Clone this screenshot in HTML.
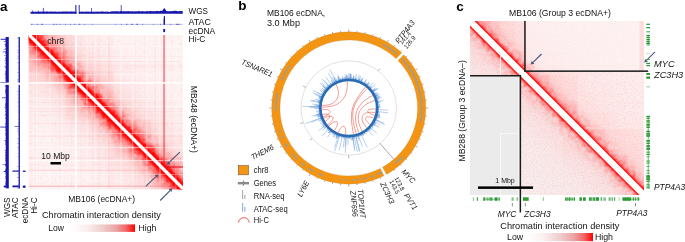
<!DOCTYPE html>
<html><head><meta charset="utf-8"><style>
html,body{margin:0;padding:0;background:#fff;}
svg{display:block;will-change:transform;}
text{font-family:"Liberation Sans", sans-serif;}
</style></head><body>
<svg xmlns="http://www.w3.org/2000/svg" width="685" height="242" viewBox="0 0 685 242">
<defs><clipPath id="cpa"><rect x="28.5" y="35.0" width="154.5" height="154.5"/></clipPath><linearGradient id="gaU" gradientUnits="userSpaceOnUse" x1="105.75" y1="112.25" x2="183.0" y2="35.0"><stop offset="0.0000" stop-color="#ff0000"/><stop offset="0.0183" stop-color="#ff0000"/><stop offset="0.0330" stop-color="#ff0c0c"/><stop offset="0.0458" stop-color="#fe5050"/><stop offset="0.0641" stop-color="#fc9494"/><stop offset="0.0915" stop-color="#fcbcbc"/><stop offset="0.1465" stop-color="#fcd2d2"/><stop offset="0.2288" stop-color="#fde2e2"/><stop offset="0.3661" stop-color="#fdeded"/><stop offset="0.5492" stop-color="#fef2f2"/><stop offset="1.0000" stop-color="#fef5f5"/></linearGradient><linearGradient id="gaL" gradientUnits="userSpaceOnUse" x1="105.75" y1="112.25" x2="28.5" y2="189.5"><stop offset="0.0000" stop-color="#ff0000"/><stop offset="0.0183" stop-color="#ff0000"/><stop offset="0.0330" stop-color="#ff0c0c"/><stop offset="0.0458" stop-color="#fe5050"/><stop offset="0.0641" stop-color="#fc9494"/><stop offset="0.0915" stop-color="#fcbcbc"/><stop offset="0.1465" stop-color="#fcd2d2"/><stop offset="0.2288" stop-color="#fde2e2"/><stop offset="0.3661" stop-color="#fdeded"/><stop offset="0.5492" stop-color="#fef2f2"/><stop offset="1.0000" stop-color="#fef5f5"/></linearGradient><linearGradient id="mgU" gradientUnits="userSpaceOnUse" x1="105.75" y1="112.25" x2="183.0" y2="35.0"><stop offset="0.0000" stop-color="#fff"/><stop offset="0.0320" stop-color="#fff"/><stop offset="0.0641" stop-color="#999"/><stop offset="0.1098" stop-color="#333"/><stop offset="0.1831" stop-color="#000"/><stop offset="1.0000" stop-color="#000"/></linearGradient><linearGradient id="mgL" gradientUnits="userSpaceOnUse" x1="105.75" y1="112.25" x2="28.5" y2="189.5"><stop offset="0.0000" stop-color="#fff"/><stop offset="0.0320" stop-color="#fff"/><stop offset="0.0641" stop-color="#999"/><stop offset="0.1098" stop-color="#333"/><stop offset="0.1831" stop-color="#000"/><stop offset="1.0000" stop-color="#000"/></linearGradient><mask id="mA" maskUnits="userSpaceOnUse" x="0" y="0" width="685" height="242"><polygon points="28.5,35.0 183.0,35.0 183.0,189.5" fill="url(#mgU)"/><polygon points="28.5,35.0 28.5,189.5 183.0,189.5" fill="url(#mgL)"/></mask><filter id="blotchA" x="0" y="0" width="100%" height="100%"><feTurbulence type="fractalNoise" baseFrequency="0.18" numOctaves="2" seed="12"/><feColorMatrix values="0 0 0 0 1  0 0 0 0 0  0 0 0 0 0  2.2 0 0 0 -0.75"/></filter><filter id="noiseA" x="0" y="0" width="100%" height="100%"><feTurbulence type="fractalNoise" baseFrequency="0.35" numOctaves="2" seed="3"/><feColorMatrix values="0 0 0 0 1  0 0 0 0 0.1  0 0 0 0 0.1  1.2 0 0 0 -0.55"/></filter><linearGradient id="lg"><stop offset="0" stop-color="#fff"/><stop offset="0.25" stop-color="#fbf0f0"/><stop offset="0.5" stop-color="#efcdcd"/><stop offset="0.7" stop-color="#eca6a6"/><stop offset="0.86" stop-color="#f06868"/><stop offset="1" stop-color="#ff0000"/></linearGradient><clipPath id="cpc"><rect x="470.0" y="21.0" width="174.0" height="174.0"/></clipPath><linearGradient id="gcU" gradientUnits="userSpaceOnUse" x1="557.0" y1="108.0" x2="644.0" y2="21.0"><stop offset="0.0000" stop-color="#ff0000"/><stop offset="0.0236" stop-color="#ff0000"/><stop offset="0.0325" stop-color="#ff1414"/><stop offset="0.0390" stop-color="#fd6868"/><stop offset="0.0471" stop-color="#fca8a8"/><stop offset="0.0610" stop-color="#fcc8c8"/><stop offset="0.0813" stop-color="#fcd6d6"/><stop offset="0.1626" stop-color="#fde2e2"/><stop offset="0.3251" stop-color="#fdeaea"/><stop offset="0.6502" stop-color="#fdefef"/><stop offset="1.0000" stop-color="#fdf2f2"/></linearGradient><linearGradient id="gcL" gradientUnits="userSpaceOnUse" x1="557.0" y1="108.0" x2="470.0" y2="195.0"><stop offset="0.0000" stop-color="#ff0000"/><stop offset="0.0236" stop-color="#ff0000"/><stop offset="0.0325" stop-color="#ff1a1a"/><stop offset="0.0390" stop-color="#fc7070"/><stop offset="0.0471" stop-color="#faaeae"/><stop offset="0.0610" stop-color="#f9cccc"/><stop offset="0.0813" stop-color="#f9d8d8"/><stop offset="0.1626" stop-color="#f9e2e2"/><stop offset="0.3251" stop-color="#f8eaea"/><stop offset="0.6502" stop-color="#f7efef"/><stop offset="1.0000" stop-color="#f7f1f1"/></linearGradient><linearGradient id="mcU" gradientUnits="userSpaceOnUse" x1="557.0" y1="108.0" x2="644.0" y2="21.0"><stop offset="0.0000" stop-color="#fff"/><stop offset="0.0284" stop-color="#fff"/><stop offset="0.0488" stop-color="#aaa"/><stop offset="0.0813" stop-color="#444"/><stop offset="0.1463" stop-color="#000"/><stop offset="1.0000" stop-color="#000"/></linearGradient><linearGradient id="mcL" gradientUnits="userSpaceOnUse" x1="557.0" y1="108.0" x2="470.0" y2="195.0"><stop offset="0.0000" stop-color="#fff"/><stop offset="0.0284" stop-color="#fff"/><stop offset="0.0488" stop-color="#aaa"/><stop offset="0.0813" stop-color="#444"/><stop offset="0.1463" stop-color="#000"/><stop offset="1.0000" stop-color="#000"/></linearGradient><mask id="mC" maskUnits="userSpaceOnUse" x="0" y="0" width="685" height="242"><polygon points="470.0,21.0 644.0,21.0 644.0,195.0" fill="url(#mcU)"/><polygon points="470.0,21.0 470.0,195.0 644.0,195.0" fill="url(#mcL)"/></mask><filter id="blotchC" x="0" y="0" width="100%" height="100%"><feTurbulence type="fractalNoise" baseFrequency="0.22" numOctaves="2" seed="31"/><feColorMatrix values="0 0 0 0 1  0 0 0 0 0  0 0 0 0 0  2.2 0 0 0 -0.8"/></filter><filter id="noiseC" x="0" y="0" width="100%" height="100%"><feTurbulence type="fractalNoise" baseFrequency="0.9" numOctaves="1" seed="8"/><feColorMatrix values="0 0 0 0 1  0 0 0 0 0.15  0 0 0 0 0.15  1.5 0 0 0 -0.7"/></filter></defs>
<text x="0" y="10.8" font-size="13.5" text-anchor="start" fill="#000" style="font-weight:bold;">a</text>
<text x="238.2" y="10.3" font-size="13.5" text-anchor="start" fill="#000" style="font-weight:bold;">b</text>
<text x="456.3" y="10.5" font-size="13.5" text-anchor="start" fill="#000" style="font-weight:bold;">c</text>
<g clip-path="url(#cpa)"><g transform="translate(0.8 0)"><polygon points="25.5,32.0 186.0,32.0 186.0,192.5" fill="url(#gaU)"/><polygon points="25.5,32.0 25.5,192.5 186.0,192.5" fill="url(#gaL)"/><polygon points="28.5,35.0 64.8,35.0 64.8,71.3" fill="#ff1010" fill-opacity="0.05"/><polygon points="28.5,35.0 28.5,71.3 64.8,71.3" fill="#ff1010" fill-opacity="0.05"/><polygon points="64.8,71.3 112.9,71.3 112.9,119.4" fill="#ff1010" fill-opacity="0.04"/><polygon points="64.8,71.3 64.8,119.4 112.9,119.4" fill="#ff1010" fill-opacity="0.04"/><polygon points="112.9,119.4 150.6,119.4 150.6,157.1" fill="#ff1010" fill-opacity="0.05"/><polygon points="112.9,119.4 112.9,157.1 150.6,157.1" fill="#ff1010" fill-opacity="0.05"/><polygon points="150.6,157.1 180.2,157.1 180.2,186.7" fill="#ff1010" fill-opacity="0.05"/><polygon points="150.6,157.1 150.6,186.7 180.2,186.7" fill="#ff1010" fill-opacity="0.05"/><polygon points="180.2,186.7 183.0,186.7 183.0,189.5" fill="#ff1010" fill-opacity="0.05"/><polygon points="180.2,186.7 180.2,189.5 183.0,189.5" fill="#ff1010" fill-opacity="0.05"/><polygon points="28.5,35.0 37.6,35.0 37.6,44.1" fill="#ff1010" fill-opacity="0.07"/><polygon points="28.5,35.0 28.5,44.1 37.6,44.1" fill="#ff1010" fill-opacity="0.07"/><polygon points="37.6,44.1 46.7,44.1 46.7,53.2" fill="#ff1010" fill-opacity="0.11"/><polygon points="37.6,44.1 37.6,53.2 46.7,53.2" fill="#ff1010" fill-opacity="0.11"/><polygon points="46.7,53.2 63.0,53.2 63.0,69.5" fill="#ff1010" fill-opacity="0.05"/><polygon points="46.7,53.2 46.7,69.5 63.0,69.5" fill="#ff1010" fill-opacity="0.05"/><polygon points="63.0,69.5 82.8,69.5 82.8,89.3" fill="#ff1010" fill-opacity="0.12"/><polygon points="63.0,69.5 63.0,89.3 82.8,89.3" fill="#ff1010" fill-opacity="0.12"/><polygon points="82.8,89.3 98.7,89.3 98.7,105.2" fill="#ff1010" fill-opacity="0.09"/><polygon points="82.8,89.3 82.8,105.2 98.7,105.2" fill="#ff1010" fill-opacity="0.09"/><polygon points="98.7,105.2 108.6,105.2 108.6,115.1" fill="#ff1010" fill-opacity="0.05"/><polygon points="98.7,105.2 98.7,115.1 108.6,115.1" fill="#ff1010" fill-opacity="0.05"/><polygon points="108.6,115.1 122.9,115.1 122.9,129.4" fill="#ff1010" fill-opacity="0.05"/><polygon points="108.6,115.1 108.6,129.4 122.9,129.4" fill="#ff1010" fill-opacity="0.05"/><polygon points="122.9,129.4 133.2,129.4 133.2,139.7" fill="#ff1010" fill-opacity="0.07"/><polygon points="122.9,129.4 122.9,139.7 133.2,139.7" fill="#ff1010" fill-opacity="0.07"/><polygon points="133.2,139.7 141.5,139.7 141.5,148.0" fill="#ff1010" fill-opacity="0.08"/><polygon points="133.2,139.7 133.2,148.0 141.5,148.0" fill="#ff1010" fill-opacity="0.08"/><polygon points="141.5,148.0 154.8,148.0 154.8,161.3" fill="#ff1010" fill-opacity="0.11"/><polygon points="141.5,148.0 141.5,161.3 154.8,161.3" fill="#ff1010" fill-opacity="0.11"/><polygon points="154.8,161.3 169.1,161.3 169.1,175.6" fill="#ff1010" fill-opacity="0.09"/><polygon points="154.8,161.3 154.8,175.6 169.1,175.6" fill="#ff1010" fill-opacity="0.09"/><polygon points="169.1,175.6 183.0,175.6 183.0,189.5" fill="#ff1010" fill-opacity="0.10"/><polygon points="169.1,175.6 169.1,189.5 183.0,189.5" fill="#ff1010" fill-opacity="0.10"/><polygon points="28.5,35.0 34.2,35.0 34.2,40.7" fill="#ff1010" fill-opacity="0.22"/><polygon points="28.5,35.0 28.5,40.7 34.2,40.7" fill="#ff1010" fill-opacity="0.22"/><polygon points="34.2,40.7 43.2,40.7 43.2,49.7" fill="#ff1010" fill-opacity="0.40"/><polygon points="34.2,40.7 34.2,49.7 43.2,49.7" fill="#ff1010" fill-opacity="0.40"/><polygon points="43.2,49.7 51.3,49.7 51.3,57.8" fill="#ff1010" fill-opacity="0.33"/><polygon points="43.2,49.7 43.2,57.8 51.3,57.8" fill="#ff1010" fill-opacity="0.33"/><polygon points="51.3,57.8 56.2,57.8 56.2,62.7" fill="#ff1010" fill-opacity="0.21"/><polygon points="51.3,57.8 51.3,62.7 56.2,62.7" fill="#ff1010" fill-opacity="0.21"/><polygon points="56.2,62.7 60.9,62.7 60.9,67.4" fill="#ff1010" fill-opacity="0.17"/><polygon points="56.2,62.7 56.2,67.4 60.9,67.4" fill="#ff1010" fill-opacity="0.17"/><polygon points="60.9,67.4 68.5,67.4 68.5,75.0" fill="#ff1010" fill-opacity="0.25"/><polygon points="60.9,67.4 60.9,75.0 68.5,75.0" fill="#ff1010" fill-opacity="0.25"/><polygon points="68.5,75.0 76.6,75.0 76.6,83.1" fill="#ff1010" fill-opacity="0.25"/><polygon points="68.5,75.0 68.5,83.1 76.6,83.1" fill="#ff1010" fill-opacity="0.25"/><polygon points="76.6,83.1 85.3,83.1 85.3,91.8" fill="#ff1010" fill-opacity="0.36"/><polygon points="76.6,83.1 76.6,91.8 85.3,91.8" fill="#ff1010" fill-opacity="0.36"/><polygon points="85.3,91.8 88.3,91.8 88.3,94.8" fill="#ff1010" fill-opacity="0.20"/><polygon points="85.3,91.8 85.3,94.8 88.3,94.8" fill="#ff1010" fill-opacity="0.20"/><polygon points="88.3,94.8 96.8,94.8 96.8,103.3" fill="#ff1010" fill-opacity="0.27"/><polygon points="88.3,94.8 88.3,103.3 96.8,103.3" fill="#ff1010" fill-opacity="0.27"/><polygon points="96.8,103.3 105.7,103.3 105.7,112.2" fill="#ff1010" fill-opacity="0.25"/><polygon points="96.8,103.3 96.8,112.2 105.7,112.2" fill="#ff1010" fill-opacity="0.25"/><polygon points="105.7,112.2 109.1,112.2 109.1,115.6" fill="#ff1010" fill-opacity="0.31"/><polygon points="105.7,112.2 105.7,115.6 109.1,115.6" fill="#ff1010" fill-opacity="0.31"/><polygon points="109.1,115.6 116.8,115.6 116.8,123.3" fill="#ff1010" fill-opacity="0.22"/><polygon points="109.1,115.6 109.1,123.3 116.8,123.3" fill="#ff1010" fill-opacity="0.22"/><polygon points="116.8,123.3 120.3,123.3 120.3,126.8" fill="#ff1010" fill-opacity="0.23"/><polygon points="116.8,123.3 116.8,126.8 120.3,126.8" fill="#ff1010" fill-opacity="0.23"/><polygon points="120.3,126.8 129.1,126.8 129.1,135.6" fill="#ff1010" fill-opacity="0.34"/><polygon points="120.3,126.8 120.3,135.6 129.1,135.6" fill="#ff1010" fill-opacity="0.34"/><polygon points="129.1,135.6 132.8,135.6 132.8,139.3" fill="#ff1010" fill-opacity="0.21"/><polygon points="129.1,135.6 129.1,139.3 132.8,139.3" fill="#ff1010" fill-opacity="0.21"/><polygon points="132.8,139.3 136.4,139.3 136.4,142.9" fill="#ff1010" fill-opacity="0.16"/><polygon points="132.8,139.3 132.8,142.9 136.4,142.9" fill="#ff1010" fill-opacity="0.16"/><polygon points="136.4,142.9 144.2,142.9 144.2,150.7" fill="#ff1010" fill-opacity="0.19"/><polygon points="136.4,142.9 136.4,150.7 144.2,150.7" fill="#ff1010" fill-opacity="0.19"/><polygon points="144.2,150.7 150.5,150.7 150.5,157.0" fill="#ff1010" fill-opacity="0.26"/><polygon points="144.2,150.7 144.2,157.0 150.5,157.0" fill="#ff1010" fill-opacity="0.26"/><polygon points="150.5,157.0 154.7,157.0 154.7,161.2" fill="#ff1010" fill-opacity="0.33"/><polygon points="150.5,157.0 150.5,161.2 154.7,161.2" fill="#ff1010" fill-opacity="0.33"/><polygon points="154.7,161.2 158.5,161.2 158.5,165.0" fill="#ff1010" fill-opacity="0.31"/><polygon points="154.7,161.2 154.7,165.0 158.5,165.0" fill="#ff1010" fill-opacity="0.31"/><polygon points="158.5,165.0 162.2,165.0 162.2,168.7" fill="#ff1010" fill-opacity="0.26"/><polygon points="158.5,165.0 158.5,168.7 162.2,168.7" fill="#ff1010" fill-opacity="0.26"/><polygon points="162.2,168.7 166.4,168.7 166.4,172.9" fill="#ff1010" fill-opacity="0.22"/><polygon points="162.2,168.7 162.2,172.9 166.4,172.9" fill="#ff1010" fill-opacity="0.22"/><polygon points="166.4,172.9 175.3,172.9 175.3,181.8" fill="#ff1010" fill-opacity="0.35"/><polygon points="166.4,172.9 166.4,181.8 175.3,181.8" fill="#ff1010" fill-opacity="0.35"/><polygon points="175.3,181.8 180.1,181.8 180.1,186.6" fill="#ff1010" fill-opacity="0.37"/><polygon points="175.3,181.8 175.3,186.6 180.1,186.6" fill="#ff1010" fill-opacity="0.37"/><polygon points="180.1,186.6 183.0,186.6 183.0,189.5" fill="#ff1010" fill-opacity="0.25"/><polygon points="180.1,186.6 180.1,189.5 183.0,189.5" fill="#ff1010" fill-opacity="0.25"/><polygon points="28.5,35.0 33.1,35.0 33.1,39.6" fill="#ff1010" fill-opacity="0.52"/><polygon points="28.5,35.0 28.5,39.6 33.1,39.6" fill="#ff1010" fill-opacity="0.52"/><polygon points="33.1,39.6 35.4,39.6 35.4,41.9" fill="#ff1010" fill-opacity="0.65"/><polygon points="33.1,39.6 33.1,41.9 35.4,41.9" fill="#ff1010" fill-opacity="0.65"/><polygon points="35.4,41.9 38.0,41.9 38.0,44.5" fill="#ff1010" fill-opacity="0.39"/><polygon points="35.4,41.9 35.4,44.5 38.0,44.5" fill="#ff1010" fill-opacity="0.39"/><polygon points="38.0,44.5 42.3,44.5 42.3,48.8" fill="#ff1010" fill-opacity="0.42"/><polygon points="38.0,44.5 38.0,48.8 42.3,48.8" fill="#ff1010" fill-opacity="0.42"/><polygon points="42.3,48.8 45.2,48.8 45.2,51.7" fill="#ff1010" fill-opacity="0.33"/><polygon points="42.3,48.8 42.3,51.7 45.2,51.7" fill="#ff1010" fill-opacity="0.33"/><polygon points="45.2,51.7 47.5,51.7 47.5,54.0" fill="#ff1010" fill-opacity="0.50"/><polygon points="45.2,51.7 45.2,54.0 47.5,54.0" fill="#ff1010" fill-opacity="0.50"/><polygon points="47.5,54.0 50.2,54.0 50.2,56.7" fill="#ff1010" fill-opacity="0.51"/><polygon points="47.5,54.0 47.5,56.7 50.2,56.7" fill="#ff1010" fill-opacity="0.51"/><polygon points="50.2,56.7 53.3,56.7 53.3,59.8" fill="#ff1010" fill-opacity="0.46"/><polygon points="50.2,56.7 50.2,59.8 53.3,59.8" fill="#ff1010" fill-opacity="0.46"/><polygon points="53.3,59.8 58.2,59.8 58.2,64.7" fill="#ff1010" fill-opacity="0.47"/><polygon points="53.3,59.8 53.3,64.7 58.2,64.7" fill="#ff1010" fill-opacity="0.47"/><polygon points="58.2,64.7 61.9,64.7 61.9,68.4" fill="#ff1010" fill-opacity="0.60"/><polygon points="58.2,64.7 58.2,68.4 61.9,68.4" fill="#ff1010" fill-opacity="0.60"/><polygon points="61.9,68.4 64.5,68.4 64.5,71.0" fill="#ff1010" fill-opacity="0.35"/><polygon points="61.9,68.4 61.9,71.0 64.5,71.0" fill="#ff1010" fill-opacity="0.35"/><polygon points="64.5,71.0 69.2,71.0 69.2,75.7" fill="#ff1010" fill-opacity="0.59"/><polygon points="64.5,71.0 64.5,75.7 69.2,75.7" fill="#ff1010" fill-opacity="0.59"/><polygon points="69.2,75.7 71.9,75.7 71.9,78.4" fill="#ff1010" fill-opacity="0.37"/><polygon points="69.2,75.7 69.2,78.4 71.9,78.4" fill="#ff1010" fill-opacity="0.37"/><polygon points="71.9,78.4 76.2,78.4 76.2,82.7" fill="#ff1010" fill-opacity="0.63"/><polygon points="71.9,78.4 71.9,82.7 76.2,82.7" fill="#ff1010" fill-opacity="0.63"/><polygon points="76.2,82.7 78.8,82.7 78.8,85.3" fill="#ff1010" fill-opacity="0.63"/><polygon points="76.2,82.7 76.2,85.3 78.8,85.3" fill="#ff1010" fill-opacity="0.63"/><polygon points="78.8,85.3 83.4,85.3 83.4,89.9" fill="#ff1010" fill-opacity="0.51"/><polygon points="78.8,85.3 78.8,89.9 83.4,89.9" fill="#ff1010" fill-opacity="0.51"/><polygon points="83.4,89.9 86.7,89.9 86.7,93.2" fill="#ff1010" fill-opacity="0.34"/><polygon points="83.4,89.9 83.4,93.2 86.7,93.2" fill="#ff1010" fill-opacity="0.34"/><polygon points="86.7,93.2 88.8,93.2 88.8,95.3" fill="#ff1010" fill-opacity="0.64"/><polygon points="86.7,93.2 86.7,95.3 88.8,95.3" fill="#ff1010" fill-opacity="0.64"/><polygon points="88.8,95.3 91.5,95.3 91.5,98.0" fill="#ff1010" fill-opacity="0.55"/><polygon points="88.8,95.3 88.8,98.0 91.5,98.0" fill="#ff1010" fill-opacity="0.55"/><polygon points="91.5,98.0 94.3,98.0 94.3,100.8" fill="#ff1010" fill-opacity="0.59"/><polygon points="91.5,98.0 91.5,100.8 94.3,100.8" fill="#ff1010" fill-opacity="0.59"/><polygon points="94.3,100.8 98.1,100.8 98.1,104.6" fill="#ff1010" fill-opacity="0.40"/><polygon points="94.3,100.8 94.3,104.6 98.1,104.6" fill="#ff1010" fill-opacity="0.40"/><polygon points="98.1,104.6 100.6,104.6 100.6,107.1" fill="#ff1010" fill-opacity="0.55"/><polygon points="98.1,104.6 98.1,107.1 100.6,107.1" fill="#ff1010" fill-opacity="0.55"/><polygon points="100.6,107.1 102.8,107.1 102.8,109.3" fill="#ff1010" fill-opacity="0.38"/><polygon points="100.6,107.1 100.6,109.3 102.8,109.3" fill="#ff1010" fill-opacity="0.38"/><polygon points="102.8,109.3 106.5,109.3 106.5,113.0" fill="#ff1010" fill-opacity="0.60"/><polygon points="102.8,109.3 102.8,113.0 106.5,113.0" fill="#ff1010" fill-opacity="0.60"/><polygon points="106.5,113.0 110.3,113.0 110.3,116.8" fill="#ff1010" fill-opacity="0.40"/><polygon points="106.5,113.0 106.5,116.8 110.3,116.8" fill="#ff1010" fill-opacity="0.40"/><polygon points="110.3,116.8 115.1,116.8 115.1,121.6" fill="#ff1010" fill-opacity="0.37"/><polygon points="110.3,116.8 110.3,121.6 115.1,121.6" fill="#ff1010" fill-opacity="0.37"/><polygon points="115.1,121.6 117.1,121.6 117.1,123.6" fill="#ff1010" fill-opacity="0.39"/><polygon points="115.1,121.6 115.1,123.6 117.1,123.6" fill="#ff1010" fill-opacity="0.39"/><polygon points="117.1,123.6 120.5,123.6 120.5,127.0" fill="#ff1010" fill-opacity="0.32"/><polygon points="117.1,123.6 117.1,127.0 120.5,127.0" fill="#ff1010" fill-opacity="0.32"/><polygon points="120.5,127.0 123.0,127.0 123.0,129.5" fill="#ff1010" fill-opacity="0.43"/><polygon points="120.5,127.0 120.5,129.5 123.0,129.5" fill="#ff1010" fill-opacity="0.43"/><polygon points="123.0,129.5 126.7,129.5 126.7,133.2" fill="#ff1010" fill-opacity="0.35"/><polygon points="123.0,129.5 123.0,133.2 126.7,133.2" fill="#ff1010" fill-opacity="0.35"/><polygon points="126.7,133.2 129.8,133.2 129.8,136.3" fill="#ff1010" fill-opacity="0.61"/><polygon points="126.7,133.2 126.7,136.3 129.8,136.3" fill="#ff1010" fill-opacity="0.61"/><polygon points="129.8,136.3 134.7,136.3 134.7,141.2" fill="#ff1010" fill-opacity="0.53"/><polygon points="129.8,136.3 129.8,141.2 134.7,141.2" fill="#ff1010" fill-opacity="0.53"/><polygon points="134.7,141.2 138.8,141.2 138.8,145.3" fill="#ff1010" fill-opacity="0.50"/><polygon points="134.7,141.2 134.7,145.3 138.8,145.3" fill="#ff1010" fill-opacity="0.50"/><polygon points="138.8,145.3 141.2,145.3 141.2,147.7" fill="#ff1010" fill-opacity="0.31"/><polygon points="138.8,145.3 138.8,147.7 141.2,147.7" fill="#ff1010" fill-opacity="0.31"/><polygon points="141.2,147.7 143.3,147.7 143.3,149.8" fill="#ff1010" fill-opacity="0.62"/><polygon points="141.2,147.7 141.2,149.8 143.3,149.8" fill="#ff1010" fill-opacity="0.62"/><polygon points="143.3,149.8 147.4,149.8 147.4,153.9" fill="#ff1010" fill-opacity="0.64"/><polygon points="143.3,149.8 143.3,153.9 147.4,153.9" fill="#ff1010" fill-opacity="0.64"/><polygon points="147.4,153.9 149.4,153.9 149.4,155.9" fill="#ff1010" fill-opacity="0.52"/><polygon points="147.4,153.9 147.4,155.9 149.4,155.9" fill="#ff1010" fill-opacity="0.52"/><polygon points="149.4,155.9 152.9,155.9 152.9,159.4" fill="#ff1010" fill-opacity="0.56"/><polygon points="149.4,155.9 149.4,159.4 152.9,159.4" fill="#ff1010" fill-opacity="0.56"/><polygon points="152.9,159.4 155.8,159.4 155.8,162.3" fill="#ff1010" fill-opacity="0.65"/><polygon points="152.9,159.4 152.9,162.3 155.8,162.3" fill="#ff1010" fill-opacity="0.65"/><polygon points="155.8,162.3 158.1,162.3 158.1,164.6" fill="#ff1010" fill-opacity="0.49"/><polygon points="155.8,162.3 155.8,164.6 158.1,164.6" fill="#ff1010" fill-opacity="0.49"/><polygon points="158.1,164.6 162.3,164.6 162.3,168.8" fill="#ff1010" fill-opacity="0.62"/><polygon points="158.1,164.6 158.1,168.8 162.3,168.8" fill="#ff1010" fill-opacity="0.62"/><polygon points="162.3,168.8 166.5,168.8 166.5,173.0" fill="#ff1010" fill-opacity="0.55"/><polygon points="162.3,168.8 162.3,173.0 166.5,173.0" fill="#ff1010" fill-opacity="0.55"/><polygon points="166.5,173.0 170.9,173.0 170.9,177.4" fill="#ff1010" fill-opacity="0.62"/><polygon points="166.5,173.0 166.5,177.4 170.9,177.4" fill="#ff1010" fill-opacity="0.62"/><polygon points="170.9,177.4 173.9,177.4 173.9,180.4" fill="#ff1010" fill-opacity="0.54"/><polygon points="170.9,177.4 170.9,180.4 173.9,180.4" fill="#ff1010" fill-opacity="0.54"/><polygon points="173.9,180.4 178.6,180.4 178.6,185.1" fill="#ff1010" fill-opacity="0.60"/><polygon points="173.9,180.4 173.9,185.1 178.6,185.1" fill="#ff1010" fill-opacity="0.60"/><polygon points="178.6,185.1 181.9,185.1 181.9,188.4" fill="#ff1010" fill-opacity="0.58"/><polygon points="178.6,185.1 178.6,188.4 181.9,188.4" fill="#ff1010" fill-opacity="0.58"/><polygon points="181.9,188.4 183.0,188.4 183.0,189.5" fill="#ff1010" fill-opacity="0.50"/><polygon points="181.9,188.4 181.9,189.5 183.0,189.5" fill="#ff1010" fill-opacity="0.50"/><rect x="28.5" y="35.0" width="154.5" height="154.5" filter="url(#blotchA)" mask="url(#mA)"/></g><rect x="28.5" y="35.0" width="47" height="47.5" fill="#ff4040" fill-opacity="0.05"/><rect x="125.1" y="35.0" width="0.9" height="154.5" fill="#ffffff" fill-opacity="0.04"/><rect x="28.5" y="47.4" width="154.5" height="0.9" fill="#ffffff" fill-opacity="0.04"/><rect x="127.3" y="35.0" width="1.5" height="154.5" fill="#ffffff" fill-opacity="0.06"/><rect x="28.5" y="95.0" width="154.5" height="1.5" fill="#ffffff" fill-opacity="0.06"/><rect x="142.1" y="35.0" width="1.1" height="154.5" fill="#ffffff" fill-opacity="0.04"/><rect x="28.5" y="47.9" width="154.5" height="1.1" fill="#ffffff" fill-opacity="0.04"/><rect x="144.4" y="35.0" width="0.6" height="154.5" fill="#ff3030" fill-opacity="0.04"/><rect x="28.5" y="70.6" width="154.5" height="0.6" fill="#ff3030" fill-opacity="0.04"/><rect x="136.4" y="35.0" width="1.0" height="154.5" fill="#ffffff" fill-opacity="0.04"/><rect x="28.5" y="74.5" width="154.5" height="1.0" fill="#ffffff" fill-opacity="0.04"/><rect x="30.2" y="35.0" width="0.9" height="154.5" fill="#ff3030" fill-opacity="0.05"/><rect x="28.5" y="61.2" width="154.5" height="0.9" fill="#ff3030" fill-opacity="0.05"/><rect x="168.4" y="35.0" width="1.2" height="154.5" fill="#ffffff" fill-opacity="0.04"/><rect x="28.5" y="85.5" width="154.5" height="1.2" fill="#ffffff" fill-opacity="0.04"/><rect x="131.4" y="35.0" width="0.8" height="154.5" fill="#ffffff" fill-opacity="0.04"/><rect x="28.5" y="176.2" width="154.5" height="0.8" fill="#ffffff" fill-opacity="0.04"/><rect x="164.5" y="35.0" width="0.9" height="154.5" fill="#ff3030" fill-opacity="0.04"/><rect x="28.5" y="56.0" width="154.5" height="0.9" fill="#ff3030" fill-opacity="0.04"/><rect x="105.2" y="35.0" width="1.4" height="154.5" fill="#ffffff" fill-opacity="0.05"/><rect x="28.5" y="181.8" width="154.5" height="1.4" fill="#ffffff" fill-opacity="0.05"/><rect x="71.3" y="35.0" width="0.8" height="154.5" fill="#ff3030" fill-opacity="0.04"/><rect x="28.5" y="68.1" width="154.5" height="0.8" fill="#ff3030" fill-opacity="0.04"/><rect x="92.5" y="35.0" width="1.2" height="154.5" fill="#ff3030" fill-opacity="0.04"/><rect x="28.5" y="164.6" width="154.5" height="1.2" fill="#ff3030" fill-opacity="0.04"/><rect x="180.2" y="35.0" width="1.0" height="154.5" fill="#ff3030" fill-opacity="0.02"/><rect x="28.5" y="169.9" width="154.5" height="1.0" fill="#ff3030" fill-opacity="0.02"/><rect x="34.9" y="35.0" width="1.2" height="154.5" fill="#ff3030" fill-opacity="0.04"/><rect x="28.5" y="157.3" width="154.5" height="1.2" fill="#ff3030" fill-opacity="0.04"/><rect x="31.5" y="35.0" width="0.7" height="154.5" fill="#ff3030" fill-opacity="0.04"/><rect x="28.5" y="163.2" width="154.5" height="0.7" fill="#ff3030" fill-opacity="0.04"/><rect x="65.2" y="35.0" width="0.7" height="154.5" fill="#ffffff" fill-opacity="0.02"/><rect x="28.5" y="104.0" width="154.5" height="0.7" fill="#ffffff" fill-opacity="0.02"/><rect x="125.8" y="35.0" width="1.2" height="154.5" fill="#ffffff" fill-opacity="0.05"/><rect x="28.5" y="140.8" width="154.5" height="1.2" fill="#ffffff" fill-opacity="0.05"/><rect x="59.3" y="35.0" width="1.0" height="154.5" fill="#ff3030" fill-opacity="0.03"/><rect x="28.5" y="108.0" width="154.5" height="1.0" fill="#ff3030" fill-opacity="0.03"/><rect x="138.8" y="35.0" width="0.8" height="154.5" fill="#ff3030" fill-opacity="0.03"/><rect x="28.5" y="142.7" width="154.5" height="0.8" fill="#ff3030" fill-opacity="0.03"/><rect x="108.9" y="35.0" width="1.2" height="154.5" fill="#ff3030" fill-opacity="0.05"/><rect x="28.5" y="157.4" width="154.5" height="1.2" fill="#ff3030" fill-opacity="0.05"/><rect x="168.5" y="35.0" width="0.7" height="154.5" fill="#ffffff" fill-opacity="0.06"/><rect x="28.5" y="55.1" width="154.5" height="0.7" fill="#ffffff" fill-opacity="0.06"/><rect x="98.6" y="35.0" width="1.2" height="154.5" fill="#ff3030" fill-opacity="0.06"/><rect x="28.5" y="122.9" width="154.5" height="1.2" fill="#ff3030" fill-opacity="0.06"/><rect x="164.4" y="35.0" width="1.3" height="154.5" fill="#ff3030" fill-opacity="0.06"/><rect x="28.5" y="135.6" width="154.5" height="1.3" fill="#ff3030" fill-opacity="0.06"/><rect x="60.2" y="35.0" width="1.2" height="154.5" fill="#ffffff" fill-opacity="0.05"/><rect x="28.5" y="145.9" width="154.5" height="1.2" fill="#ffffff" fill-opacity="0.05"/><rect x="61.5" y="35.0" width="1.4" height="154.5" fill="#ffffff" fill-opacity="0.06"/><rect x="28.5" y="118.0" width="154.5" height="1.4" fill="#ffffff" fill-opacity="0.06"/><rect x="150.7" y="35.0" width="0.9" height="154.5" fill="#ffffff" fill-opacity="0.06"/><rect x="28.5" y="88.8" width="154.5" height="0.9" fill="#ffffff" fill-opacity="0.06"/><rect x="41.3" y="35.0" width="1.0" height="154.5" fill="#ffffff" fill-opacity="0.04"/><rect x="28.5" y="110.3" width="154.5" height="1.0" fill="#ffffff" fill-opacity="0.04"/><rect x="32.9" y="35.0" width="1.3" height="154.5" fill="#ffffff" fill-opacity="0.02"/><rect x="28.5" y="61.7" width="154.5" height="1.3" fill="#ffffff" fill-opacity="0.02"/><rect x="80.3" y="35.0" width="1.3" height="154.5" fill="#ff3030" fill-opacity="0.03"/><rect x="28.5" y="114.8" width="154.5" height="1.3" fill="#ff3030" fill-opacity="0.03"/><rect x="140.3" y="35.0" width="1.4" height="154.5" fill="#ffffff" fill-opacity="0.05"/><rect x="28.5" y="111.1" width="154.5" height="1.4" fill="#ffffff" fill-opacity="0.05"/><rect x="175.1" y="35.0" width="0.7" height="154.5" fill="#ff3030" fill-opacity="0.03"/><rect x="28.5" y="79.8" width="154.5" height="0.7" fill="#ff3030" fill-opacity="0.03"/><rect x="141.1" y="35.0" width="1.2" height="154.5" fill="#ffffff" fill-opacity="0.04"/><rect x="28.5" y="121.5" width="154.5" height="1.2" fill="#ffffff" fill-opacity="0.04"/><rect x="76.7" y="35.0" width="0.9" height="154.5" fill="#ffffff" fill-opacity="0.05"/><rect x="28.5" y="67.2" width="154.5" height="0.9" fill="#ffffff" fill-opacity="0.05"/><rect x="159.9" y="35.0" width="1.5" height="154.5" fill="#ff3030" fill-opacity="0.04"/><rect x="28.5" y="66.0" width="154.5" height="1.5" fill="#ff3030" fill-opacity="0.04"/><rect x="111.3" y="35.0" width="1.1" height="154.5" fill="#ff3030" fill-opacity="0.04"/><rect x="28.5" y="184.8" width="154.5" height="1.1" fill="#ff3030" fill-opacity="0.04"/><rect x="108.2" y="35.0" width="1.0" height="154.5" fill="#ff3030" fill-opacity="0.05"/><rect x="28.5" y="110.9" width="154.5" height="1.0" fill="#ff3030" fill-opacity="0.05"/><rect x="135.3" y="35.0" width="0.7" height="154.5" fill="#ff3030" fill-opacity="0.04"/><rect x="28.5" y="182.8" width="154.5" height="0.7" fill="#ff3030" fill-opacity="0.04"/><rect x="171.2" y="35.0" width="0.8" height="154.5" fill="#ff3030" fill-opacity="0.04"/><rect x="28.5" y="102.0" width="154.5" height="0.8" fill="#ff3030" fill-opacity="0.04"/><rect x="154.5" y="35.0" width="1.4" height="154.5" fill="#ff3030" fill-opacity="0.04"/><rect x="28.5" y="64.6" width="154.5" height="1.4" fill="#ff3030" fill-opacity="0.04"/><rect x="124.0" y="35.0" width="1.4" height="154.5" fill="#ffffff" fill-opacity="0.03"/><rect x="28.5" y="38.5" width="154.5" height="1.4" fill="#ffffff" fill-opacity="0.03"/><rect x="28.5" y="35.0" width="154.5" height="154.5" filter="url(#noiseA)" opacity="0.12"/><rect x="36.0" y="35.0" width="1.1" height="154.5" fill="#fff" fill-opacity="0.43"/><rect x="49.5" y="35.0" width="0.8" height="154.5" fill="#fff" fill-opacity="0.56"/><rect x="61.5" y="35.0" width="0.8" height="154.5" fill="#fff" fill-opacity="0.47"/><rect x="86.5" y="35.0" width="1.0" height="154.5" fill="#fff" fill-opacity="0.50"/><rect x="94.5" y="35.0" width="0.8" height="154.5" fill="#fff" fill-opacity="0.51"/><rect x="120.5" y="35.0" width="1.0" height="154.5" fill="#fff" fill-opacity="0.56"/><rect x="132.5" y="35.0" width="0.7" height="154.5" fill="#fff" fill-opacity="0.59"/><rect x="146.5" y="35.0" width="0.8" height="154.5" fill="#fff" fill-opacity="0.55"/><rect x="159.5" y="35.0" width="1.0" height="154.5" fill="#fff" fill-opacity="0.56"/><rect x="175.5" y="35.0" width="0.8" height="154.5" fill="#fff" fill-opacity="0.43"/><rect x="28.5" y="46.0" width="154.5" height="0.7" fill="#fff" fill-opacity="0.54"/><rect x="28.5" y="59.0" width="154.5" height="1.0" fill="#fff" fill-opacity="0.40"/><rect x="28.5" y="74.0" width="154.5" height="0.8" fill="#fff" fill-opacity="0.37"/><rect x="28.5" y="98.0" width="154.5" height="0.8" fill="#fff" fill-opacity="0.49"/><rect x="28.5" y="106.0" width="154.5" height="0.9" fill="#fff" fill-opacity="0.53"/><rect x="28.5" y="133.0" width="154.5" height="0.7" fill="#fff" fill-opacity="0.56"/><rect x="28.5" y="147.0" width="154.5" height="1.2" fill="#fff" fill-opacity="0.53"/><rect x="28.5" y="160.0" width="154.5" height="1.1" fill="#fff" fill-opacity="0.56"/><rect x="28.5" y="174.0" width="154.5" height="0.7" fill="#fff" fill-opacity="0.47"/><rect x="163.5" y="35.0" width="1.0" height="131" fill="#e01424" fill-opacity="0.8"/><rect x="28.5" y="169.6" width="136" height="1.1" fill="#f03848" fill-opacity="0.15"/><rect x="28.5" y="185.7" width="150" height="1.3" fill="#f03848" fill-opacity="0.25"/><rect x="164" y="166.4" width="19" height="1.2" fill="#e01020" fill-opacity="0.95"/><rect x="75.0" y="35.0" width="1.8" height="154.5" fill="#fff" fill-opacity="0.85"/><rect x="28.5" y="82.0" width="154.5" height="1.8" fill="#fff" fill-opacity="0.85"/><line x1="26.3" y1="32.0" x2="186.8" y2="192.5" stroke="#fff" stroke-width="3.3"/></g>
<polygon points="30.50,11.78 31.20,11.63 31.90,11.72 32.60,11.60 33.30,11.59 34.00,11.87 34.70,11.89 35.40,11.48 36.10,11.77 36.80,11.78 37.50,11.40 38.20,11.66 38.90,11.48 39.60,11.66 40.30,11.58 41.00,11.82 41.70,11.58 42.40,11.47 43.10,11.64 43.80,11.53 44.50,11.56 45.20,11.87 45.90,11.52 46.60,11.60 47.30,11.75 48.00,11.88 48.70,11.47 49.40,11.66 50.10,11.54 50.80,11.46 51.50,11.54 52.20,11.44 52.90,11.70 53.60,11.50 54.30,11.68 55.00,11.43 55.70,11.46 56.40,11.85 57.10,11.83 57.80,11.79 58.50,11.42 59.20,11.68 59.90,11.59 60.60,11.75 61.30,11.65 62.00,11.71 62.70,11.72 63.40,11.61 64.10,11.61 64.80,11.45 65.50,11.56 66.20,11.44 66.90,11.47 67.60,11.40 68.30,11.56 69.00,11.82 69.70,11.47 70.40,11.42 71.10,11.45 71.80,11.62 72.50,11.54 73.20,11.79 73.90,11.48 74.60,11.61 75.30,11.76 76.00,11.87 76.70,11.47 77.40,11.41 78.10,11.86 78.80,11.50 79.50,11.69 80.20,11.82 80.90,11.75 81.60,11.52 82.30,11.46 83.00,11.88 83.70,11.59 84.40,11.88 85.10,11.54 85.80,11.73 86.50,11.46 87.20,11.41 87.90,11.65 88.60,11.40 89.30,11.75 90.00,11.86 90.70,11.60 91.40,11.88 92.10,11.80 92.80,11.70 93.50,11.59 94.20,11.82 94.90,11.88 95.60,11.47 96.30,11.74 97.00,11.42 97.70,11.45 98.40,11.71 99.10,11.67 99.80,11.64 100.50,11.58 101.20,11.60 101.90,11.62 102.60,11.59 103.30,11.43 104.00,11.65 104.70,11.68 105.40,11.54 106.10,11.78 106.80,11.75 107.50,11.41 108.20,11.64 108.90,11.63 109.60,11.89 110.30,11.69 111.00,11.21 111.70,11.49 112.40,11.19 113.10,11.18 113.80,11.47 114.50,11.19 115.20,11.27 115.90,11.16 116.60,11.32 117.30,11.15 118.00,11.13 118.70,11.49 119.40,11.47 120.10,11.16 120.80,11.02 121.50,11.37 122.20,11.27 122.90,11.20 123.60,11.34 124.30,11.32 125.00,11.34 125.70,11.32 126.40,11.20 127.10,11.35 127.80,11.31 128.50,11.11 129.20,11.49 129.90,11.22 130.60,11.13 131.30,11.34 132.00,11.39 132.70,11.10 133.40,11.38 134.10,11.41 134.80,11.28 135.50,11.15 136.20,11.45 136.90,11.34 137.60,11.33 138.30,11.08 139.00,11.28 139.70,11.07 140.40,11.42 141.10,11.33 141.80,11.17 142.50,11.06 143.20,11.27 143.90,11.39 144.60,11.44 145.30,11.24 146.00,11.40 146.70,11.10 147.40,11.08 148.10,11.41 148.80,11.36 149.50,11.10 150.20,10.98 150.90,10.90 151.60,11.13 152.30,11.24 153.00,11.15 153.70,10.90 154.40,11.16 155.10,11.13 155.80,11.09 156.50,11.09 157.20,11.10 157.90,10.84 158.60,11.22 159.30,11.30 160.00,10.83 160.70,10.86 161.40,10.81 162.10,11.08 162.80,10.09 163.50,9.07 164.20,8.06 164.90,8.81 165.60,9.84 166.30,10.97 167.00,11.04 167.70,11.16 168.40,11.13 169.10,11.19 169.80,11.27 170.50,11.01 171.20,11.16 171.90,10.89 172.60,11.28 173.30,10.85 174.00,10.95 174.70,10.84 175.40,10.85 176.10,10.85 176.80,11.01 177.50,11.29 178.20,10.93 178.90,11.21 179.60,11.15 180.30,10.97 181.00,11.04 181.70,11.09 182.40,10.83 183,13.7 30.5,13.7" fill="#1818aa"/>
<rect x="32.10" y="10" width="0.8" height="3.70" fill="#1818aa" fill-opacity="0.5"/>
<rect x="37.90" y="10.7" width="0.8" height="3.00" fill="#1818aa" fill-opacity="0.8"/>
<rect x="42.90" y="7.9" width="0.8" height="5.80" fill="#1818aa" fill-opacity="0.9"/>
<rect x="47.05" y="11" width="0.7" height="2.70" fill="#1818aa" fill-opacity="0.7"/>
<rect x="62.40" y="11" width="0.6" height="2.70" fill="#1818aa" fill-opacity="0.6"/>
<rect x="75.10" y="5" width="1.4" height="8.70" fill="#1818aa" fill-opacity="0.75"/>
<rect x="78.70" y="5" width="1.0" height="8.70" fill="#1818aa" fill-opacity="0.9"/>
<rect x="91.00" y="7.9" width="0.8" height="5.80" fill="#1818aa" fill-opacity="0.8"/>
<rect x="120.75" y="5" width="0.9" height="8.70" fill="#1818aa" fill-opacity="0.8"/>
<rect x="179.70" y="10.5" width="0.6" height="3.20" fill="#1818aa" fill-opacity="0.6"/>
<rect x="76.7" y="11" width="2" height="3" fill="#fff"/>
<rect x="30.5" y="23.9" width="152.3" height="0.9" fill="#b4b8ea"/>
<g fill="#5058c8" fill-opacity="0.75"><rect x="31" y="23.8" width="1.5" height="1.1"/><rect x="37" y="23.8" width="1.2" height="1.1"/><rect x="41" y="23.8" width="2" height="1.1"/><rect x="53" y="23.8" width="1.5" height="1.1"/><rect x="56" y="23.8" width="0.8" height="1.1"/><rect x="59.5" y="23.8" width="1" height="1.1"/><rect x="65" y="23.8" width="0.8" height="1.1"/><rect x="70" y="23.8" width="1" height="1.1"/><rect x="74" y="23.8" width="1" height="1.1"/><rect x="78.5" y="23.8" width="1.6" height="1.1"/><rect x="84" y="23.8" width="0.8" height="1.1"/><rect x="92" y="23.8" width="0.8" height="1.1"/><rect x="115" y="23.8" width="0.8" height="1.1"/><rect x="121" y="23.8" width="0.8" height="1.1"/><rect x="126" y="23.8" width="1.5" height="1.1"/><rect x="131" y="23.8" width="2" height="1.1"/><rect x="136" y="23.8" width="2" height="1.1"/><rect x="142" y="23.8" width="1" height="1.1"/><rect x="153" y="23.8" width="0.8" height="1.1"/><rect x="160" y="23.8" width="1" height="1.1"/><rect x="170" y="23.8" width="1.2" height="1.1"/><rect x="176" y="23.8" width="3.5" height="1.1"/></g>
<rect x="163.8" y="16.2" width="1.2" height="8.6" fill="#1818aa"/>
<rect x="163.3" y="18.5" width="0.6" height="6" fill="#1818aa" fill-opacity="0.6"/>
<rect x="163.2" y="29" width="1.9" height="3.1" fill="#1818aa"/>
<text x="188.6" y="13.6" font-size="8.77" text-anchor="start" fill="#121212" style="" textLength="19.4" lengthAdjust="spacingAndGlyphs">WGS</text>
<text x="188.6" y="25.2" font-size="8.77" text-anchor="start" fill="#121212" style="" textLength="22.3" lengthAdjust="spacingAndGlyphs">ATAC</text>
<text x="188.6" y="33.6" font-size="8.77" text-anchor="start" fill="#121212" style="" textLength="26.6" lengthAdjust="spacingAndGlyphs">ecDNA</text>
<text x="188.6" y="42.0" font-size="8.77" text-anchor="start" fill="#121212" style="" textLength="16.8" lengthAdjust="spacingAndGlyphs">Hi-C</text>
<polygon points="8.8,37 8.8,188.5 5.82,188.20 5.43,187.50 5.71,186.80 5.82,186.10 5.52,185.40 5.63,184.70 5.23,184.00 5.49,183.30 5.75,182.60 5.56,181.90 5.59,181.20 5.67,180.50 5.90,179.80 5.43,179.10 5.49,178.40 5.65,177.70 5.70,177.00 5.32,176.30 5.84,175.60 5.84,174.90 5.39,174.20 5.60,173.50 5.68,172.80 5.29,172.10 5.72,171.40 5.27,170.70 5.30,170.00 5.41,169.30 5.77,168.60 5.72,167.90 5.77,167.20 5.73,166.50 5.30,165.80 5.23,165.10 5.43,164.40 5.40,163.70 5.74,163.00 5.74,162.30 5.57,161.60 5.23,160.90 5.39,160.20 5.62,159.50 5.30,158.80 5.40,158.10 5.56,157.40 5.51,156.70 5.32,156.00 5.32,155.30 5.57,154.60 5.48,153.90 5.56,153.20 5.21,152.50 5.80,151.80 5.36,151.10 5.67,150.40 5.65,149.70 5.78,149.00 5.63,148.30 5.56,147.60 5.88,146.90 5.75,146.20 5.71,145.50 5.49,144.80 5.30,144.10 5.61,143.40 5.41,142.70 5.69,142.00 5.23,141.30 5.42,140.60 5.74,139.90 5.68,139.20 5.49,138.50 5.76,137.80 5.71,137.10 5.77,136.40 5.40,135.70 5.59,135.00 5.54,134.30 5.26,133.60 5.38,132.90 5.83,132.20 5.80,131.50 5.27,130.80 5.45,130.10 5.56,129.40 5.54,128.70 5.43,128.00 5.37,127.30 5.42,126.60 5.79,125.90 5.38,125.20 5.61,124.50 5.22,123.80 5.55,123.10 5.84,122.40 5.61,121.70 5.65,121.00 5.62,120.30 5.64,119.60 5.62,118.90 5.37,118.20 5.47,117.50 5.73,116.80 5.77,116.10 5.73,115.40 5.32,114.70 5.51,114.00 5.67,113.30 5.86,112.60 5.25,111.90 5.38,111.20 5.83,110.50 5.40,109.80 5.54,109.10 5.36,108.40 5.87,107.70 5.34,107.00 5.49,106.30 5.23,105.60 5.31,104.90 5.43,104.20 5.31,103.50 5.82,102.80 5.31,102.10 5.88,101.40 5.77,100.70 5.28,100.00 5.83,99.30 5.84,98.60 5.87,97.90 5.36,97.20 5.80,96.50 5.90,95.80 5.49,95.10 5.83,94.40 5.51,93.70 5.39,93.00 5.43,92.30 5.35,91.60 5.28,90.90 5.44,90.20 5.33,89.50 5.81,88.80 5.58,88.10 5.72,87.40 5.35,86.70 5.27,86.00 5.64,85.30 5.24,84.60 5.28,83.90 5.60,83.20 5.60,82.50 5.85,81.80 5.41,81.10 5.52,80.40 5.73,79.70 5.58,79.00 5.41,78.30 5.61,77.60 5.41,76.90 5.55,76.20 5.64,75.50 5.60,74.80 5.46,74.10 5.34,73.40 5.63,72.70 5.35,72.00 5.48,71.30 5.64,70.60 5.78,69.90 5.84,69.20 5.63,68.50 5.40,67.80 5.51,67.10 5.81,66.40 5.67,65.70 5.77,65.00 5.65,64.30 5.49,63.60 5.45,62.90 5.65,62.20 5.68,61.50 5.68,60.80 5.55,60.10 5.84,59.40 5.30,58.70 5.22,58.00 5.85,57.30 5.81,56.60 5.81,55.90 5.86,55.20 5.90,54.50 5.36,53.80 5.57,53.10 5.60,52.40 5.53,51.70 5.71,51.00 5.71,50.30 5.87,49.60 5.30,48.90 5.46,48.20 5.89,47.50 5.32,46.80 5.34,46.10 5.25,45.40 5.35,44.70 5.78,44.00 5.33,43.30 5.53,42.60 5.76,41.90 5.65,41.20 5.35,40.50 5.57,39.80 5.30,39.10 5.72,38.40 5.66,37.70 5.47,37.00" fill="#1818aa"/>
<rect x="0.6" y="38.8" width="5.90" height="1.0" fill="#1818aa" fill-opacity="0.9"/>
<rect x="3.5" y="41" width="3.00" height="0.8" fill="#1818aa" fill-opacity="0.6"/>
<rect x="4" y="44" width="2.50" height="0.7" fill="#1818aa" fill-opacity="0.5"/>
<rect x="3.5" y="49" width="3.00" height="0.7" fill="#1818aa" fill-opacity="0.5"/>
<rect x="2.5" y="51.5" width="4.00" height="0.8" fill="#1818aa" fill-opacity="0.7"/>
<rect x="4" y="55" width="2.50" height="0.7" fill="#1818aa" fill-opacity="0.5"/>
<rect x="4.5" y="60" width="2.00" height="0.7" fill="#1818aa" fill-opacity="0.5"/>
<rect x="4" y="66" width="2.50" height="0.7" fill="#1818aa" fill-opacity="0.5"/>
<rect x="4.5" y="74" width="2.00" height="0.7" fill="#1818aa" fill-opacity="0.5"/>
<rect x="0.3" y="82" width="6.20" height="0.9" fill="#1818aa" fill-opacity="0.9"/>
<rect x="2" y="97.4" width="4.50" height="0.8" fill="#1818aa" fill-opacity="0.8"/>
<rect x="4" y="107" width="2.50" height="0.7" fill="#1818aa" fill-opacity="0.5"/>
<rect x="4.5" y="115" width="2.00" height="0.7" fill="#1818aa" fill-opacity="0.5"/>
<rect x="0.2" y="126.6" width="6.30" height="0.9" fill="#1818aa" fill-opacity="0.9"/>
<rect x="4" y="140" width="2.50" height="0.7" fill="#1818aa" fill-opacity="0.5"/>
<rect x="4.5" y="150" width="2.00" height="0.7" fill="#1818aa" fill-opacity="0.5"/>
<rect x="2.5" y="164.3" width="4.00" height="0.8" fill="#1818aa" fill-opacity="0.6"/>
<rect x="3.7" y="171" width="2.80" height="1.0" fill="#1818aa" fill-opacity="0.9"/>
<rect x="3.7" y="185.6" width="2.80" height="1.7" fill="#1818aa" fill-opacity="1"/>
<rect x="0" y="82.6" width="9" height="2.2" fill="#fff"/>
<rect x="18.6" y="37" width="1.3" height="151.5" fill="#1818aa"/>
<g fill="#1818aa" fill-opacity="0.6"><rect x="17.32" y="37.5" width="1.28" height="0.8"/><rect x="18.19" y="41.7" width="0.41" height="0.8"/><rect x="17.89" y="46.1" width="0.71" height="0.8"/><rect x="17.47" y="49.9" width="1.13" height="0.8"/><rect x="17.56" y="52.3" width="1.04" height="0.8"/><rect x="17.41" y="55.7" width="1.19" height="0.8"/><rect x="17.47" y="58.0" width="1.13" height="0.8"/><rect x="17.56" y="62.4" width="1.04" height="0.8"/><rect x="18.18" y="65.5" width="0.42" height="0.8"/><rect x="17.91" y="68.5" width="0.69" height="0.8"/><rect x="17.55" y="72.1" width="1.05" height="0.8"/><rect x="18.10" y="75.3" width="0.50" height="0.8"/><rect x="17.61" y="78.8" width="0.99" height="0.8"/><rect x="17.32" y="80.8" width="1.28" height="0.8"/><rect x="18.16" y="84.3" width="0.44" height="0.8"/><rect x="18.14" y="88.6" width="0.46" height="0.8"/><rect x="17.51" y="91.1" width="1.09" height="0.8"/><rect x="17.69" y="94.4" width="0.91" height="0.8"/><rect x="17.80" y="97.8" width="0.80" height="0.8"/><rect x="18.11" y="100.2" width="0.49" height="0.8"/><rect x="17.51" y="101.9" width="1.09" height="0.8"/><rect x="17.70" y="105.7" width="0.90" height="0.8"/><rect x="17.90" y="109.4" width="0.70" height="0.8"/><rect x="17.88" y="111.7" width="0.72" height="0.8"/><rect x="18.25" y="115.8" width="0.35" height="0.8"/><rect x="18.03" y="118.9" width="0.57" height="0.8"/><rect x="17.91" y="122.7" width="0.69" height="0.8"/><rect x="17.86" y="125.2" width="0.74" height="0.8"/><rect x="17.45" y="128.3" width="1.15" height="0.8"/><rect x="17.37" y="130.8" width="1.23" height="0.8"/><rect x="18.00" y="132.7" width="0.60" height="0.8"/><rect x="18.18" y="134.5" width="0.42" height="0.8"/><rect x="17.50" y="138.3" width="1.10" height="0.8"/><rect x="18.09" y="140.4" width="0.51" height="0.8"/><rect x="17.48" y="143.1" width="1.12" height="0.8"/><rect x="17.48" y="147.1" width="1.12" height="0.8"/><rect x="18.14" y="150.3" width="0.46" height="0.8"/><rect x="18.09" y="153.0" width="0.51" height="0.8"/><rect x="17.67" y="156.1" width="0.93" height="0.8"/><rect x="18.02" y="158.2" width="0.58" height="0.8"/><rect x="18.27" y="162.1" width="0.33" height="0.8"/><rect x="17.32" y="166.0" width="1.28" height="0.8"/><rect x="17.88" y="170.3" width="0.72" height="0.8"/><rect x="17.66" y="173.5" width="0.94" height="0.8"/><rect x="17.23" y="176.9" width="1.37" height="0.8"/><rect x="17.97" y="180.5" width="0.63" height="0.8"/><rect x="17.77" y="184.5" width="0.83" height="0.8"/><rect x="17.50" y="187.8" width="1.10" height="0.8"/></g>
<rect x="17" y="82.6" width="4" height="2.2" fill="#fff"/>
<rect x="14.5" y="126.2" width="4.5" height="0.8" fill="#1818aa" fill-opacity="0.7"/>
<rect x="12.4" y="170.5" width="6.5" height="1.2" fill="#1818aa"/>
<rect x="12.4" y="185.5" width="6.5" height="1.8" fill="#1818aa"/>
<rect x="22.8" y="170.6" width="2.8" height="1.3" fill="#1818aa"/>
<rect x="22.8" y="185.6" width="2.8" height="2.2" fill="#1818aa"/>
<text x="47.3" y="44.3" font-size="9.2" text-anchor="start" fill="#121212" style="" textLength="16.73" lengthAdjust="spacingAndGlyphs">chr8</text>
<text x="41.3" y="158.9" font-size="9.2" text-anchor="start" fill="#121212" style="" textLength="28.5" lengthAdjust="spacingAndGlyphs">10 Mbp</text>
<rect x="50.5" y="162" width="10.5" height="2.5" fill="#000"/>
<text x="191.1" y="85.8" font-size="9.1" text-anchor="start" fill="#121212" style="" transform="rotate(90 191.1 85.8)" textLength="67" lengthAdjust="spacingAndGlyphs">MB248 (ecDNA+)</text>
<text x="68.2" y="202.2" font-size="9.1" text-anchor="start" fill="#121212" style="" textLength="67" lengthAdjust="spacingAndGlyphs">MB106 (ecDNA+)</text>
<text x="10.4" y="197.4" font-size="8.77" text-anchor="end" fill="#121212" style="" transform="rotate(-90 10.4 197.4)" textLength="19.59" lengthAdjust="spacingAndGlyphs">WGS</text>
<text x="17.8" y="197.4" font-size="8.77" text-anchor="end" fill="#121212" style="" transform="rotate(-90 17.8 197.4)" textLength="20.65" lengthAdjust="spacingAndGlyphs">ATAC</text>
<text x="27.6" y="197.4" font-size="8.77" text-anchor="end" fill="#121212" style="" transform="rotate(-90 27.6 197.4)" textLength="25.97" lengthAdjust="spacingAndGlyphs">ecDNA</text>
<text x="36.6" y="197.4" font-size="8.77" text-anchor="end" fill="#121212" style="" transform="rotate(-90 36.6 197.4)" textLength="16.4" lengthAdjust="spacingAndGlyphs">Hi-C</text>
<text x="42.0" y="217.6" font-size="9.63" text-anchor="start" fill="#121212" style="" textLength="118.8" lengthAdjust="spacingAndGlyphs">Chromatin interaction density</text>
<text x="48.3" y="231.3" font-size="9.2" text-anchor="start" fill="#121212" style="" textLength="15.78" lengthAdjust="spacingAndGlyphs">Low</text>
<rect x="70" y="224.4" width="65" height="7.5" fill="url(#lg)"/>
<text x="138.5" y="231.3" font-size="9.31" text-anchor="start" fill="#121212" style="" textLength="17.89" lengthAdjust="spacingAndGlyphs">High</text>
<line x1="179.8" y1="152.1" x2="169.1892037734577" y2="162.46403352359945" stroke="#46577a" stroke-width="1.1"/>
<polygon points="166.9,164.7 167.79172472570738,161.03328116518838 170.58668282120803,163.89478588201052" fill="#46577a"/>
<line x1="145.9" y1="186.2" x2="155.98186964826286" y2="176.60596275407246" stroke="#46577a" stroke-width="1.1"/>
<polygon points="158.3,174.4 157.36059636955815,178.0547942239082 154.60314292696756,175.15713128423673" fill="#46577a"/>
<line x1="160.2" y1="200.5" x2="170.03725830020306" y2="190.66274169979695" stroke="#46577a" stroke-width="1.1"/>
<polygon points="172.3,188.4 171.45147186257617,192.07695526217006 168.62304473782996,189.24852813742385" fill="#46577a"/>
<g transform="translate(348.75 0) scale(1.012 1) translate(-348.75 0)">
<path d="M403.19,54.69 A76.2,76.2 0 0 1 386.16,174.39 L382.13,167.24 A68.0,68.0 0 0 0 397.33,60.42 Z" fill="#f39412" stroke="#b88848" stroke-width="0.25"/>
<path d="M383.58,175.77 A76.2,76.2 0 1 1 401.20,52.73 L395.56,58.67 A68.0,68.0 0 1 0 379.83,168.48 Z" fill="#f39412" stroke="#b88848" stroke-width="0.25"/>
<path d="M348.75,31.80L348.75,29.50M356.72,32.22L356.86,30.83M364.59,33.47L364.88,32.10M372.30,35.53L372.73,34.20M379.74,38.39L380.31,37.11M386.85,42.01L388.00,40.02M393.54,46.35L394.36,45.22M399.74,51.37L400.67,50.33M405.38,57.01L406.42,56.08M410.40,63.21L411.53,62.39M414.74,69.90L416.73,68.75M418.36,77.01L419.64,76.44M421.22,84.45L422.55,84.02M423.28,92.16L424.65,91.87M424.53,100.03L425.92,99.89M424.95,108.00L427.25,108.00M424.53,115.97L425.92,116.11M423.28,123.84L424.65,124.13M421.22,131.55L422.55,131.98M418.36,138.99L419.64,139.56M414.74,146.10L416.73,147.25M410.40,152.79L411.53,153.61M405.38,158.99L406.42,159.92M399.74,164.63L400.67,165.67M393.54,169.65L394.36,170.78M379.74,177.61L380.31,178.89M372.30,180.47L372.73,181.80M364.59,182.53L364.88,183.90M356.72,183.78L356.86,185.17M348.75,184.20L348.75,186.50M340.78,183.78L340.64,185.17M332.91,182.53L332.62,183.90M325.20,180.47L324.77,181.80M317.76,177.61L317.19,178.89M310.65,173.99L309.50,175.98M303.96,169.65L303.14,170.78M297.76,164.63L296.83,165.67M292.12,158.99L291.08,159.92M287.10,152.79L285.97,153.61M282.76,146.10L280.77,147.25M279.14,138.99L277.86,139.56M276.28,131.55L274.95,131.98M274.22,123.84L272.85,124.13M272.97,115.97L271.58,116.11M272.55,108.00L270.25,108.00M272.97,100.03L271.58,99.89M274.22,92.16L272.85,91.87M276.28,84.45L274.95,84.02M279.14,77.01L277.86,76.44M282.76,69.90L280.77,68.75M287.10,63.21L285.97,62.39M292.12,57.01L291.08,56.08M297.76,51.37L296.83,50.33M303.96,46.35L303.14,45.22M310.65,42.01L309.50,40.02M317.76,38.39L317.19,37.11M325.20,35.53L324.77,34.20M332.91,33.47L332.62,32.10M340.78,32.22L340.64,30.83" stroke="#555" stroke-width="0.5"/>
<path d="M382.04,44.05 A72.1,72.1 0 0 1 396.52,54.00M401.48,58.83 A72.1,72.1 0 0 1 419.53,121.76M401.48,157.17 A72.1,72.1 0 0 1 395.09,163.23M381.71,172.13 A72.1,72.1 0 0 1 376.34,174.61M373.41,175.75 A72.1,72.1 0 0 1 369.83,176.95M366.19,177.96 A72.1,72.1 0 0 1 362.51,178.78M361.27,179.00 A72.1,72.1 0 0 1 359.41,179.31M357.54,179.56 A72.1,72.1 0 0 1 355.03,179.83M353.15,179.97 A72.1,72.1 0 0 1 351.27,180.06M346.23,180.06 A72.1,72.1 0 0 1 344.98,180.00M341.21,179.71 A72.1,72.1 0 0 1 339.96,179.56M322.91,175.31 A72.1,72.1 0 0 1 318.85,173.61M313.80,171.06 A72.1,72.1 0 0 1 309.48,168.47M305.36,165.58 A72.1,72.1 0 0 1 301.92,162.83M297.77,158.98 A72.1,72.1 0 0 1 293.12,153.86M288.28,147.27 A72.1,72.1 0 0 1 286.00,143.50M283.41,138.47 A72.1,72.1 0 0 1 282.14,135.59M281.00,132.66 A72.1,72.1 0 0 1 280.18,130.28M276.69,110.52 A72.1,72.1 0 0 1 278.23,93.01M282.38,79.83 A72.1,72.1 0 0 1 290.42,65.62" stroke="#a29c92" stroke-width="1.6" fill="none"/>
<circle cx="348.75" cy="108.0" r="47.2" fill="none" stroke="#cfcfcf" stroke-width="0.6"/>
<path d="M348.79,80.00L348.79,77.81M349.18,80.00L349.20,78.39M349.35,80.01L349.41,77.38M349.77,80.02L349.83,78.33M349.97,80.03L350.02,78.83M350.12,80.03L350.19,78.63M350.54,80.06L350.60,79.08M350.87,80.08L350.96,78.89M351.00,80.09L351.08,79.15M351.46,80.13L351.69,77.77M351.71,80.16L351.91,78.22M351.78,80.16L351.92,78.83M352.16,80.21L352.29,79.18M352.54,80.26L352.73,78.87M352.62,80.27L353.01,77.52M352.89,80.31L353.45,76.56M353.24,80.36L353.53,78.60M353.48,80.40L353.76,78.80M353.72,80.44L353.88,79.52M354.15,80.53L354.38,79.35M354.40,80.58L354.63,79.44M354.71,80.64L355.43,77.35M354.93,80.69L355.48,78.27M355.16,80.74L355.69,78.47M355.32,80.78L355.69,79.21M355.75,80.89L356.04,79.78M356.04,80.97L356.90,77.78M356.18,81.00L356.55,79.65M356.46,81.08L356.85,79.70M356.85,81.20L357.26,79.82M356.88,81.21L357.18,80.24M357.31,81.34L359.24,75.31M357.52,81.41L358.03,79.85M357.79,81.50L358.57,79.21M357.97,81.56L358.61,79.74M358.31,81.68L358.98,79.83M358.48,81.75L358.87,80.71M358.78,81.86L360.13,78.33M359.03,81.96L359.73,80.19M359.28,82.06L359.66,81.11M359.48,82.14L360.53,79.60M359.89,82.31L360.46,81.01M360.12,82.41L360.99,80.46M360.42,82.55L362.25,78.55M360.56,82.61L363.04,77.29M360.93,82.79L361.75,81.09M361.16,82.90L361.89,81.43M361.30,82.97L361.84,81.89M361.65,83.15L362.16,82.18M361.72,83.19L362.97,80.79M362.12,83.40L362.89,81.97M362.37,83.54L362.84,82.70M362.49,83.60L363.11,82.49M362.76,83.76L363.31,82.80M362.92,83.85L363.61,82.68M363.33,84.10L366.15,79.48M363.54,84.22L364.39,82.85M363.67,84.30L366.02,80.57M363.95,84.49L365.22,82.53M364.08,84.57L364.72,83.60M364.48,84.83L365.96,82.65M364.71,84.99L365.80,83.42M364.85,85.09L365.91,83.57M365.15,85.31L365.92,84.25M365.31,85.42L366.06,84.41M365.58,85.62L366.13,84.89M365.78,85.78L368.39,82.37M365.87,85.85L367.03,84.35M366.21,86.11L368.08,83.76M366.41,86.27L367.18,85.32M366.59,86.42L369.40,83.02M366.89,86.67L367.58,85.87M366.95,86.72L367.61,85.96M367.15,86.89L368.17,85.72M367.37,87.09L369.45,84.76M367.67,87.36L368.38,86.59M367.85,87.53L368.76,86.56M368.04,87.71L368.85,86.86M368.19,87.84L368.97,87.04M368.42,88.07L370.01,86.46M368.64,88.30L369.32,87.63M368.86,88.52L371.15,86.31M369.06,88.73L370.97,86.93M369.12,88.79L370.28,87.71M369.32,89.00L371.15,87.32M369.53,89.23L371.21,87.71M369.72,89.45L371.38,87.98M369.91,89.67L370.63,89.04M370.10,89.89L371.10,89.04M370.36,90.19L371.35,89.38M370.47,90.33L371.85,89.21M370.71,90.63L371.51,90.00M370.83,90.78L372.15,89.75M371.02,91.02L374.72,88.20M371.12,91.16L372.90,89.82M371.32,91.42L372.77,90.36M371.41,91.55L373.64,89.94M371.70,91.96L372.83,91.17M371.77,92.05L377.02,88.41M371.89,92.24L372.71,91.68M372.04,92.46L374.33,90.93M372.28,92.83L373.59,91.99M372.41,93.03L373.19,92.54M372.56,93.27L373.87,92.46M372.69,93.48L373.92,92.73M372.82,93.69L373.83,93.09M372.91,93.85L374.23,93.08M373.07,94.13L375.02,93.02M373.28,94.49L375.30,93.38M373.37,94.66L374.42,94.09M373.49,94.88L374.93,94.12M373.64,95.18L377.67,93.11M373.71,95.31L375.15,94.57M373.88,95.64L375.93,94.63M374.04,95.98L376.35,94.88M374.13,96.17L376.36,95.13M374.25,96.43L377.03,95.16M374.36,96.68L376.34,95.81M374.43,96.83L377.76,95.38M374.55,97.12L376.34,96.36M374.70,97.47L378.91,95.76M374.81,97.76L375.66,97.43M374.85,97.87L376.07,97.39M374.96,98.14L375.96,97.76M375.07,98.44L376.00,98.10M375.14,98.64L378.97,97.28M375.26,99.00L376.76,98.49M375.30,99.11L379.41,97.74M375.43,99.51L376.53,99.16M375.49,99.69L377.42,99.09M375.59,100.03L376.77,99.68M375.69,100.36L376.96,100.00M375.72,100.46L378.56,99.66M375.78,100.70L377.86,100.14M375.86,100.98L377.70,100.50M375.93,101.26L377.31,100.92M376.03,101.69L377.58,101.33M376.06,101.84L377.97,101.40M376.11,102.07L377.20,101.83M376.18,102.36L377.40,102.11M376.22,102.58L380.60,101.72M376.27,102.82L378.95,102.31M376.35,103.30L378.56,102.93M376.36,103.35L378.00,103.08M376.41,103.63L378.31,103.33M376.47,104.06L377.66,103.89M376.49,104.17L378.23,103.92M376.53,104.46L377.82,104.29M376.57,104.82L379.92,104.44M376.60,105.07L377.65,104.96M376.63,105.45L379.42,105.19M376.65,105.66L377.60,105.58M376.67,105.85L378.13,105.74M376.69,106.21L377.87,106.14M376.71,106.55L379.65,106.39M376.73,106.85L379.99,106.72M376.73,106.91L378.59,106.83M376.74,107.20L380.17,107.10M376.75,107.63L379.21,107.60M376.75,107.77L377.72,107.76M376.75,108.20L378.68,108.21M376.75,108.43L378.35,108.45M376.74,108.75L378.09,108.78M376.74,108.89L378.11,108.93M376.73,109.17L378.71,109.26M376.70,109.59L377.68,109.65M376.70,109.66L378.39,109.77M376.67,110.09L377.80,110.17M376.66,110.26L377.62,110.34M376.64,110.48L378.29,110.63M376.60,110.91L378.65,111.12M376.58,111.06L377.60,111.17M376.53,111.52L378.27,111.74M376.51,111.66L378.68,111.95M376.46,112.01L378.16,112.26M376.44,112.13L379.24,112.54M376.40,112.43L377.33,112.58M376.35,112.74L378.06,113.03M376.29,113.07L377.38,113.27M376.23,113.36L377.85,113.68M376.20,113.50L379.14,114.09M376.12,113.92L379.54,114.67M376.06,114.16L377.20,114.42M376.00,114.45L379.37,115.25M375.95,114.66L379.37,115.50M375.85,115.03L377.25,115.40M375.78,115.29L379.59,116.32M375.72,115.52L376.60,115.77M375.68,115.68L377.55,116.22M375.58,116.01L377.93,116.71M375.50,116.28L376.54,116.60M375.39,116.61L377.05,117.14M375.31,116.86L376.41,117.22M375.21,117.14L376.91,117.73M375.14,117.35L377.39,118.15M375.04,117.64L376.35,118.12M375.01,117.71L376.39,118.22M374.91,117.99L376.55,118.62M374.75,118.39L376.05,118.91M374.71,118.49L375.57,118.84M374.58,118.81L376.29,119.53M374.51,118.97L376.45,119.80M374.38,119.27L375.32,119.68M374.20,119.68L375.76,120.39M374.09,119.92L375.62,120.64M374.05,120.00L375.13,120.51M373.90,120.31L375.72,121.20M373.74,120.63L375.91,121.73M373.63,120.85L374.71,121.41M373.52,121.05L374.78,121.71M373.39,121.30L374.48,121.89M373.25,121.56L374.63,122.32M373.18,121.69L375.62,123.06M372.97,122.04L375.30,123.39M372.82,122.31L374.83,123.51M372.64,122.60L373.85,123.34M372.57,122.71L373.34,123.19M372.39,123.00L373.96,124.00M372.26,123.21L378.60,127.32M372.16,123.37L373.15,124.02M371.93,123.70L374.20,125.24M371.81,123.88L372.60,124.43M371.67,124.08L373.98,125.71M371.49,124.33L372.78,125.26M371.35,124.53L372.95,125.71M371.15,124.80L372.91,126.12M370.95,125.07L372.87,126.55M370.85,125.19L371.81,125.94M370.62,125.48L372.68,127.13M370.42,125.73L371.31,126.45M370.26,125.92L372.82,128.06M370.21,125.99L371.21,126.83M369.94,126.30L370.75,127.00M369.73,126.55L370.66,127.37M369.57,126.72L370.53,127.58M369.46,126.84L370.32,127.62M369.23,127.10L370.89,128.65M369.09,127.25L370.67,128.74M368.88,127.47L370.35,128.89M368.68,127.67L369.49,128.47M368.52,127.82L369.21,128.51M368.23,128.11L369.27,129.18M368.13,128.20L370.38,130.54M367.84,128.48L368.47,129.16M367.63,128.68L368.90,130.08M367.47,128.82L368.59,130.06M367.17,129.09L368.10,130.15M367.03,129.21L368.34,130.74M366.87,129.35L367.75,130.39M366.58,129.59L367.86,131.14M366.43,129.71L367.50,131.03M366.26,129.85L367.89,131.89M366.08,129.99L367.34,131.59M365.78,130.23L366.49,131.16M365.54,130.41L366.65,131.90M365.41,130.50L366.39,131.82M365.18,130.68L366.74,132.83M364.92,130.86L365.69,131.95M364.72,131.00L365.26,131.79M364.50,131.15L365.10,132.05M364.18,131.37L365.81,133.84M364.03,131.46L364.59,132.33M363.74,131.65L364.29,132.53M363.53,131.78L364.84,133.88M363.34,131.90L364.50,133.80M363.03,132.08L363.54,132.94M362.86,132.19L363.82,133.83M362.65,132.31L363.22,133.30M362.31,132.50L363.65,134.93M362.08,132.62L363.08,134.47M361.95,132.69L362.56,133.84M361.64,132.86L363.29,136.05M361.38,132.99L362.55,135.30M361.21,133.08L361.95,134.56M360.77,133.29L361.86,135.57M360.59,133.37L361.07,134.39M360.27,133.52L360.67,134.43M360.01,133.64L361.03,135.97M359.81,133.72L360.49,135.31M359.68,133.78L360.21,135.03M359.32,133.93L360.10,135.85M359.12,134.01L360.11,136.49M358.94,134.08L359.41,135.26M358.68,134.18L359.15,135.43M358.26,134.34L359.09,136.63M358.15,134.38L358.59,135.61M357.90,134.46L358.58,136.44M357.56,134.58L357.94,135.71M357.32,134.66L358.27,137.61M357.04,134.74L357.69,136.84M356.73,134.84L357.19,136.38M356.48,134.91L356.87,136.25M356.30,134.96L356.75,136.55M356.01,135.04L356.36,136.34M355.78,135.10L356.68,138.58M355.45,135.19L355.73,136.30M355.28,135.23L355.55,136.36M354.81,135.34L355.10,136.66M354.59,135.38L354.84,136.55M354.33,135.44L354.64,136.97M354.04,135.50L354.36,137.19M353.85,135.53L354.08,136.77M353.53,135.59L354.02,138.41M353.23,135.64L353.49,137.24M353.05,135.67L353.56,138.97M352.65,135.73L352.80,136.79M352.42,135.76L352.75,138.26M352.15,135.79L352.70,140.33M351.83,135.83L351.96,137.03M351.53,135.86L351.66,137.19M351.40,135.87L351.88,140.87M351.18,135.89L351.31,137.34M350.79,135.93L350.89,137.17M350.61,135.94L350.78,138.57M350.25,135.96L350.38,138.35M349.93,135.98L350.06,139.13M349.63,135.99L349.72,138.79M349.34,135.99L349.37,137.65M349.13,136.00L349.15,137.69M348.79,136.00L348.79,138.07M348.64,136.00L348.64,138.10M348.40,136.00L348.39,137.05M348.11,135.99L348.08,137.05M347.92,135.99L347.89,136.99M347.54,135.97L347.43,138.46M347.36,135.97L347.26,137.98M347.07,135.95L346.97,137.63M346.76,135.93L346.64,137.47M346.38,135.90L346.25,137.38M346.18,135.88L345.97,138.21M345.98,135.86L345.84,137.23M345.56,135.82L345.23,138.68M345.22,135.78L345.07,136.99M345.03,135.75L344.86,137.05M344.74,135.71L344.32,138.64M344.61,135.69L344.41,137.04M344.14,135.62L343.92,136.98M343.95,135.58L343.47,138.32M343.76,135.55L343.30,138.09M343.56,135.51L343.30,136.85M343.25,135.45L342.98,136.79M342.97,135.40L342.78,136.30M342.56,135.31L342.31,136.39M342.34,135.26L341.94,137.00M342.01,135.18L341.30,138.05M341.80,135.12L341.53,136.19M341.50,135.05L341.24,136.02M341.20,134.96L340.84,136.22M341.09,134.93L340.77,136.06M340.79,134.85L340.05,137.36M340.42,134.73L339.71,137.03M340.19,134.66L339.82,135.81M340.02,134.61L339.62,135.84M339.74,134.51L338.71,137.52M339.35,134.37L339.01,135.31M339.10,134.28L337.83,137.71M338.95,134.23L338.18,136.29M338.62,134.10L338.21,135.16M338.40,134.02L336.45,138.94M338.09,133.89L336.73,137.19M338.02,133.86L337.14,135.97M337.67,133.72L336.27,136.97M337.49,133.64L336.78,135.26M337.25,133.53L336.14,135.99M336.87,133.35L336.47,134.20M336.71,133.28L336.25,134.24M336.39,133.12L335.51,134.91M336.27,133.06L334.39,136.84M335.83,132.84L335.12,134.21M335.67,132.76L335.02,133.99M335.42,132.62L334.73,133.91M335.21,132.51L334.04,134.63M335.03,132.41L334.40,133.53M334.67,132.20L334.07,133.22M334.58,132.15L332.77,135.23M334.32,132.00L333.56,133.27M334.05,131.83L333.41,132.88M333.81,131.68L332.88,133.16M333.63,131.57L332.69,133.03M333.41,131.43L332.87,132.25M333.15,131.25L332.48,132.25M332.90,131.08L332.17,132.13M332.57,130.85L331.37,132.55M332.42,130.75L330.95,132.80M332.16,130.55L331.38,131.61M331.95,130.40L330.51,132.32M331.75,130.25L330.27,132.18M331.51,130.06L329.17,133.05M331.36,129.95L330.05,131.61M331.01,129.67L329.92,131.00M330.82,129.50L330.17,130.28M330.64,129.35L329.84,130.30M330.43,129.17L329.44,130.31M330.26,129.03L329.46,129.94M330.10,128.89L328.04,131.21M329.83,128.64L328.49,130.11M329.72,128.54L328.85,129.48M329.37,128.21L328.58,129.04M329.25,128.09L327.71,129.68M329.06,127.90L327.80,129.18M328.78,127.63L326.95,129.43M328.72,127.56L327.63,128.62M328.50,127.33L326.93,128.83M328.26,127.09L327.36,127.93M328.07,126.88L326.95,127.91M328.00,126.80L327.05,127.66M327.76,126.53L326.90,127.29M327.53,126.27L322.78,130.36M327.31,126.01L325.79,127.29M327.15,125.81L325.88,126.86M327.02,125.65L324.40,127.77M326.92,125.54L325.84,126.41M326.70,125.26L325.63,126.10M326.53,125.04L325.76,125.62M326.33,124.77L322.84,127.38M326.23,124.63L325.32,125.30M326.05,124.39L323.90,125.94M325.90,124.19L323.85,125.65M325.75,123.98L324.20,125.06M325.52,123.64L323.75,124.83M325.46,123.54L321.84,125.95M325.20,123.15L323.84,124.03M325.06,122.92L323.44,123.94M325.00,122.83L323.76,123.60M324.77,122.46L323.41,123.28M324.73,122.39L323.79,122.95M324.57,122.12L322.96,123.06M324.38,121.78L323.03,122.55M324.27,121.60L320.32,123.79M324.15,121.37L322.28,122.38M324.03,121.16L322.54,121.95M323.91,120.92L322.99,121.39M323.76,120.64L322.84,121.11M323.64,120.38L321.79,121.30M323.50,120.10L321.11,121.24M323.39,119.87L322.49,120.29M323.25,119.56L321.91,120.17M323.13,119.30L318.58,121.31M323.05,119.10L321.93,119.59M322.95,118.89L321.43,119.53M322.85,118.64L321.91,119.03M322.74,118.37L320.81,119.14M322.60,118.02L320.29,118.91M322.50,117.75L319.99,118.68M322.45,117.60L320.53,118.30M322.38,117.42L319.90,118.31M322.24,117.01L321.07,117.41M322.17,116.80L320.98,117.20M322.06,116.47L320.62,116.92M321.98,116.21L318.41,117.30M321.90,115.95L320.53,116.35M321.85,115.78L317.91,116.93M321.74,115.39L320.65,115.69M321.70,115.25L319.19,115.92M321.61,114.89L320.38,115.20M321.56,114.70L317.21,115.77M321.52,114.52L320.30,114.81M321.42,114.11L317.99,114.88M321.35,113.77L319.79,114.10M321.30,113.54L316.55,114.50M321.27,113.38L320.11,113.61M321.22,113.13L318.69,113.60M321.18,112.89L319.44,113.20M321.10,112.43L319.97,112.61M321.07,112.23L319.36,112.49M321.02,111.87L319.34,112.11M321.00,111.72L317.56,112.18M320.95,111.38L319.89,111.51M320.92,111.10L319.47,111.26M320.89,110.78L316.38,111.23M320.87,110.62L319.39,110.76M320.85,110.42L319.60,110.52M320.83,110.15L319.73,110.23M320.80,109.74L319.85,109.80M320.79,109.50L318.89,109.60M320.78,109.19L318.96,109.27M320.76,108.87L319.50,108.91M320.76,108.80L318.90,108.86M320.75,108.48L314.98,108.58M320.75,108.05L318.57,108.05M320.75,107.80L319.54,107.79M320.75,107.61L319.32,107.59M320.76,107.37L319.34,107.33M320.77,107.06L318.70,106.99M320.77,106.89L319.02,106.83M320.79,106.59L316.08,106.36M320.81,106.22L318.93,106.10M320.82,106.00L318.58,105.84M320.85,105.63L317.31,105.33M320.87,105.39L319.63,105.27M320.90,105.10L319.95,105.00M320.93,104.80L319.64,104.65M320.97,104.53L319.92,104.40M321.00,104.29L319.90,104.15M321.02,104.15L319.79,103.98M321.08,103.69L319.66,103.46M321.11,103.49L318.53,103.07M321.18,103.11L319.97,102.90M321.22,102.91L318.68,102.44M321.27,102.62L319.93,102.35M321.31,102.42L318.78,101.91M321.36,102.21L319.76,101.87M321.43,101.85L318.51,101.19M321.47,101.67L319.42,101.20M321.54,101.41L320.48,101.16M321.62,101.08L319.63,100.58M321.70,100.78L317.68,99.71M321.74,100.63L320.07,100.17M321.83,100.29L320.65,99.95M321.94,99.92L320.92,99.61M321.97,99.81L321.07,99.53M322.08,99.46L320.10,98.83M322.14,99.30L318.62,98.14M322.26,98.94L321.17,98.57M322.37,98.61L319.53,97.60M322.41,98.49L319.49,97.44M322.49,98.28L321.21,97.80M322.61,97.96L318.59,96.41M322.70,97.73L321.37,97.20M322.80,97.49L320.22,96.45M322.90,97.24L320.16,96.10M323.02,96.95L321.39,96.25M323.18,96.58L322.05,96.08M323.26,96.41L321.43,95.58M323.38,96.15L322.04,95.53M323.51,95.89L322.32,95.32M323.57,95.75L322.76,95.35M323.74,95.40L322.10,94.57M323.89,95.11L322.93,94.61M324.00,94.90L322.62,94.17M324.12,94.69L321.60,93.33M324.25,94.45L322.91,93.71M324.40,94.18L323.46,93.65M324.56,93.89L323.09,93.04M324.60,93.83L323.20,93.01M324.85,93.41L320.47,90.73M324.93,93.28L323.88,92.63M325.14,92.94L324.07,92.26M325.17,92.90L324.15,92.25M325.38,92.58L323.60,91.40M325.48,92.43L324.36,91.68M325.72,92.07L324.60,91.29M325.80,91.95L323.95,90.66M326.00,91.68L324.21,90.39M326.17,91.45L323.96,89.83M326.33,91.22L322.37,88.25M326.55,90.94L324.72,89.54M326.67,90.79L325.14,89.60M326.82,90.59L326.04,89.98M327.07,90.28L324.97,88.57M327.23,90.09L324.88,88.14M327.37,89.92L322.31,85.65M327.53,89.73L323.56,86.31M327.65,89.59L326.58,88.66M327.91,89.30L325.85,87.44M328.09,89.10L326.16,87.34M328.25,88.93L326.68,87.47M328.51,88.65L327.13,87.33M328.57,88.59L327.07,87.15M328.76,88.40L327.83,87.49M328.97,88.18L327.21,86.42M329.18,87.98L327.57,86.34M329.36,87.80L328.56,86.97M329.67,87.51L327.12,84.77M329.76,87.43L328.43,86.00M330.02,87.19L328.70,85.72M330.17,87.06L329.56,86.37M330.37,86.88L328.18,84.36M330.66,86.63L329.40,85.15M330.80,86.51L329.41,84.84M331.16,86.22L330.44,85.33M331.35,86.06L329.50,83.73M331.61,85.86L330.49,84.42M331.76,85.75L330.93,84.66M332.00,85.56L331.22,84.51M332.19,85.42L331.02,83.82M332.49,85.21L330.98,83.09M332.53,85.17L331.89,84.27M332.81,84.98L331.98,83.78M333.11,84.77L332.42,83.75M333.31,84.64L332.45,83.34M333.49,84.53L332.38,82.82M333.74,84.36L330.97,79.99M333.91,84.25L332.10,81.35M334.25,84.05L333.44,82.70M334.37,83.97L333.32,82.22M334.76,83.74L334.08,82.55M334.98,83.62L334.13,82.11M335.09,83.56L333.60,80.89M335.38,83.40L334.60,81.98M335.72,83.22L334.23,80.39M335.98,83.08L335.34,81.83M336.22,82.96L335.74,81.99M336.40,82.87L335.73,81.50M336.72,82.72L335.73,80.63M336.92,82.62L335.77,80.14M337.10,82.54L336.46,81.13M337.30,82.45L336.74,81.19M337.57,82.33L336.64,80.18M337.81,82.23L336.40,78.90M338.17,82.08L337.58,80.64M338.32,82.02L337.74,80.58M338.67,81.88L338.29,80.88M339.02,81.74L338.54,80.44M339.16,81.69L338.72,80.50M339.40,81.61L338.98,80.42M339.77,81.48L339.46,80.55M339.92,81.43L339.32,79.62M340.21,81.33L339.80,80.07M340.47,81.25L340.19,80.32M340.69,81.18L340.25,79.72M341.07,81.08L340.65,79.61M341.25,81.02L340.69,79.03M341.48,80.96L341.02,79.24M341.73,80.90L341.24,79.00M342.07,80.81L341.58,78.80M342.42,80.72L341.82,78.15M342.72,80.66L342.46,79.49M342.98,80.60L342.66,79.09M343.11,80.57L342.79,79.04M343.51,80.49L342.70,76.27M343.75,80.45L343.52,79.18M343.86,80.43L343.66,79.30M344.26,80.36L343.90,78.16M344.39,80.34L344.24,79.45M344.88,80.27L344.70,78.93M344.92,80.26L344.71,78.69M345.21,80.22L344.86,77.49M345.59,80.18L345.37,78.25M345.96,80.14L345.85,79.10M346.06,80.13L345.81,77.54M346.43,80.10L346.30,78.57M346.64,80.08L346.49,78.12M347.06,80.05L346.81,75.89M347.33,80.04L347.06,74.92M347.41,80.03L347.36,79.10M347.85,80.01L347.81,78.80M348.05,80.01L348.01,78.41M348.44,80.00L348.42,78.46M348.51,80.00L348.50,78.85" stroke="#4a8ad0" stroke-width="0.45" fill="none"/>
<path d="M358.41,81.72L360.51,76.01M340.09,81.37L337.98,74.89M345.62,80.18L344.99,74.57M350.33,80.04L350.68,73.76M348.49,80.00L348.47,77.85M350.16,80.04L350.47,73.79M346.57,80.08L346.10,73.97M347.45,80.03L347.27,76.24M345.32,80.21L344.93,77.09M348.77,80.00L348.77,73.20M350.97,80.09L351.43,74.27M341.02,81.09L339.95,77.39M350.71,80.07L350.98,76.16M337.11,82.53L334.47,76.77M339.84,81.45L338.16,76.43M360.15,82.43L361.56,79.28M343.16,80.56L342.43,76.98M349.78,80.02L350.03,73.12M340.21,81.34L339.22,78.26M358.24,81.66L359.39,78.47M352.82,80.30L353.63,74.75M336.93,82.62L336.02,80.68M355.03,80.71L356.50,74.29M353.48,80.40L354.22,76.13M339.20,81.68L337.62,77.32M339.40,81.61L338.19,78.19M323.67,95.55L313.66,90.57M328.50,88.66L322.42,82.85M325.50,92.40L320.69,89.17M323.61,95.68L317.75,92.80M336.61,82.77L334.27,77.91M332.16,85.45L325.95,77.01M330.20,87.03L324.46,80.54M336.58,82.78L330.19,69.55M327.68,89.56L320.02,82.86M335.48,83.34L332.23,77.29M334.73,83.76L328.51,73.00M329.90,87.30L322.23,78.87M320.84,105.78L314.68,105.29M321.42,114.08L312.05,116.16M321.57,114.74L315.64,116.21M321.23,102.83L310.93,100.90M321.37,102.15L311.49,100.04M322.80,97.47L315.23,94.40M320.75,107.70L310.25,107.58M321.65,100.96L315.16,99.28M320.77,106.88L309.88,106.44M320.91,104.97L312.94,104.10M320.77,106.96L302.98,106.29M322.41,117.51L305.83,123.50M323.04,96.91L313.10,92.62M322.60,118.01L311.90,122.11M337.74,133.75L335.77,138.36M342.62,135.32L339.31,150.09M357.97,134.44L362.19,146.56M357.21,134.69L359.11,140.69M348.23,136.00L348.06,144.87M344.87,135.73L343.24,147.46M355.30,135.22L359.27,151.71M360.45,133.44L366.89,147.45M354.04,135.49L357.20,151.88M346.13,135.88L345.11,146.79M355.62,135.14L359.58,150.79M340.15,134.65L334.78,151.29M346.56,135.91L345.23,152.88M339.29,134.35L334.68,147.22M352.68,135.72L354.48,148.44M352.57,135.74L354.70,151.17M376.71,109.55L387.49,110.15M374.42,119.17L383.40,123.08M375.41,99.43L381.14,97.59M374.15,96.22L379.61,93.69M374.97,98.17L380.30,96.17M375.43,116.48L379.32,117.72M374.11,119.86L384.35,124.65M375.63,115.85L380.56,117.29M376.08,101.91L383.03,100.36M376.53,111.47L387.78,112.88M373.29,94.52L376.60,92.70M375.17,117.27L378.19,118.33M374.40,119.22L378.69,121.09M373.34,121.39L379.70,124.86M369.62,89.33L374.93,84.58M371.60,91.82L375.74,88.89M368.13,87.79L372.94,82.78M365.87,85.84L368.63,82.26M372.00,92.39L378.15,88.27M371.64,91.87L375.50,89.15M331.24,129.85L328.91,132.76M324.93,122.71L322.09,124.47M333.78,131.66L332.08,134.34M329.55,128.38L322.71,135.64M335.68,132.76L333.46,136.98M332.40,130.73L327.78,137.15M331.03,129.68L328.36,132.95M326.49,124.98L319.09,130.62M371.70,124.04L374.52,126.01M369.49,126.82L376.55,133.23M372.55,122.75L375.92,124.84M366.98,129.25L372.41,135.57M369.04,127.29L371.44,129.58M368.01,128.32L370.56,131.00" stroke="#4d8ad0" stroke-width="0.4" fill="none"/>
<circle cx="348.75" cy="108.0" r="28.0" fill="none" stroke="#2a6ab2" stroke-width="2.5"/>
<path d="M323.50,116.69C333.10,113.39 332.22,108.87 322.09,109.40M328.00,124.80C336.72,117.75 334.39,113.80 323.99,118.00M334.60,130.64C340.54,121.13 337.24,118.36 328.91,125.87M345.50,134.50C346.73,124.43 342.28,123.24 338.32,132.58M325.63,121.35C332.56,117.35 330.62,112.52 322.84,114.46M372.32,95.47C355.82,104.24 351.75,115.43 358.75,132.76M374.42,100.64C358.50,105.20 353.82,116.79 362.10,131.12M375.43,108.93C365.29,108.58 364.66,112.56 374.42,115.36M375.04,112.64C361.90,110.32 357.68,117.92 366.62,127.84M373.51,118.00C364.84,114.50 362.43,118.68 369.79,124.44M365.19,86.96C350.72,105.48 349.31,111.16 353.39,134.29M366.96,88.47C351.48,105.07 349.85,111.85 356.11,133.67M336.22,84.43C342.48,96.21 335.47,106.60 322.20,105.21M347.35,81.34C348.26,98.67 339.41,107.67 322.07,107.07" stroke="#e84a3c" stroke-width="0.55" fill="none"/>
<line x1="379.45" y1="143.32" x2="393.36" y2="159.32" stroke="#555" stroke-width="0.5"/>
<line x1="377.81" y1="70.81" x2="379.66" y2="68.44" stroke="#666" stroke-width="0.5"/>
<line x1="348.75" y1="155.20" x2="348.75" y2="158.20" stroke="#666" stroke-width="0.5"/>
<line x1="312.59" y1="138.34" x2="310.29" y2="140.27" stroke="#666" stroke-width="0.5"/>
<line x1="303.86" y1="122.59" x2="301.01" y2="123.51" stroke="#666" stroke-width="0.5"/>
<line x1="306.33" y1="87.31" x2="303.63" y2="85.99" stroke="#666" stroke-width="0.5"/>
</g>
<text x="267.0" y="15.9" font-size="9.2" text-anchor="start" fill="#121212" style="" textLength="58.2" lengthAdjust="spacingAndGlyphs">MB106 ecDNA,</text>
<text x="267.0" y="25.8" font-size="9.2" text-anchor="start" fill="#121212" style="" textLength="33" lengthAdjust="spacingAndGlyphs">3.0 Mbp</text>
<text x="256" y="70.5" font-size="7.7" text-anchor="middle" fill="#121212" style="font-style:italic;" transform="rotate(23 256 70.5)" textLength="33.21" lengthAdjust="spacingAndGlyphs">TSNARE1</text>
<text x="263.5" y="154.5" font-size="7.7" text-anchor="middle" fill="#121212" style="font-style:italic;" transform="rotate(-27 263.5 154.5)" textLength="24.4" lengthAdjust="spacingAndGlyphs">THEM6</text>
<text x="305.5" y="190" font-size="7.7" text-anchor="middle" fill="#121212" style="font-style:italic;" transform="rotate(-61 305.5 190)" textLength="16.95" lengthAdjust="spacingAndGlyphs">LY6E</text>
<text x="359" y="204" font-size="7.7" text-anchor="middle" fill="#121212" style="font-style:italic;" transform="rotate(85 359 204)" textLength="29.07" lengthAdjust="spacingAndGlyphs">TOP1MT</text>
<text x="351.5" y="204" font-size="7.7" text-anchor="middle" fill="#121212" style="font-style:italic;" transform="rotate(85 351.5 204)" textLength="26.01" lengthAdjust="spacingAndGlyphs">ZNF696</text>
<text x="385" y="194" font-size="7.7" text-anchor="middle" fill="#121212" style="font-style:italic;" transform="rotate(64 385 194)" textLength="22.81" lengthAdjust="spacingAndGlyphs">ZC3H3</text>
<text x="406.5" y="178" font-size="7.7" text-anchor="middle" fill="#121212" style="font-style:italic;" transform="rotate(46 406.5 178)" textLength="16.0" lengthAdjust="spacingAndGlyphs">MYC</text>
<text x="408.5" y="203" font-size="7.7" text-anchor="middle" fill="#121212" style="font-style:italic;" transform="rotate(56 408.5 203)" textLength="18.01" lengthAdjust="spacingAndGlyphs">PVT1</text>
<text x="407" y="33.5" font-size="7.7" text-anchor="middle" fill="#121212" style="font-style:italic;" transform="rotate(-52 407 33.5)" textLength="26.81" lengthAdjust="spacingAndGlyphs">PTP4A3</text>
<text x="406.7" y="39.3" font-size="6.21" text-anchor="middle" fill="#121212" style="" transform="rotate(-50 406.7 39.3)" textLength="14.51" lengthAdjust="spacingAndGlyphs">141.4</text>
<text x="411.4" y="43.6" font-size="6.21" text-anchor="middle" fill="#121212" style="" transform="rotate(-50 411.4 43.6)" textLength="14.51" lengthAdjust="spacingAndGlyphs">126.9</text>
<text x="397.6" y="184.6" font-size="6.21" text-anchor="middle" fill="#121212" style="" transform="rotate(62 397.6 184.6)" textLength="14.51" lengthAdjust="spacingAndGlyphs">123.8</text>
<text x="392.6" y="188.0" font-size="6.21" text-anchor="middle" fill="#121212" style="" transform="rotate(62 392.6 188.0)" textLength="14.51" lengthAdjust="spacingAndGlyphs">143.5</text>
<rect x="238.3" y="165.6" width="10.2" height="9.2" fill="#f39412" stroke="#7a5a30" stroke-width="0.6"/>
<text x="253.7" y="172.6" font-size="8.13" text-anchor="start" fill="#121212" style="" textLength="14.78" lengthAdjust="spacingAndGlyphs">chr8</text>
<rect x="237.8" y="182.0" width="11.2" height="2.4" fill="#8a8a8a"/>
<rect x="242.8" y="180.6" width="1.3" height="5.2" fill="#8a8a8a"/>
<text x="253.7" y="185.8" font-size="8.13" text-anchor="start" fill="#121212" style="" textLength="22.39" lengthAdjust="spacingAndGlyphs">Genes</text>
<rect x="242.3" y="190" width="0.8" height="9" fill="#8c8c8c"/>
<rect x="244.5" y="195" width="0.8" height="4" fill="#8c8c8c"/>
<text x="253.7" y="199.4" font-size="8.13" text-anchor="start" fill="#121212" style="" textLength="30.83" lengthAdjust="spacingAndGlyphs">RNA-seq</text>
<rect x="242.3" y="203" width="0.8" height="8.7" fill="#5a96d8"/>
<rect x="244.5" y="207" width="0.8" height="4.7" fill="#5a96d8"/>
<text x="253.7" y="211.8" font-size="8.13" text-anchor="start" fill="#121212" style="" textLength="33.93" lengthAdjust="spacingAndGlyphs">ATAC-seq</text>
<path d="M238.6,222.6 A5.3,5 0 0 1 249.2,222.6" stroke="#e8483c" stroke-width="0.9" fill="none"/>
<text x="253.7" y="222.7" font-size="8.13" text-anchor="start" fill="#121212" style="" textLength="15.2" lengthAdjust="spacingAndGlyphs">Hi-C</text>
<g clip-path="url(#cpc)"><polygon points="470.0,21.0 644.0,21.0 644.0,195.0" fill="url(#gcU)"/><polygon points="470.0,21.0 470.0,195.0 644.0,195.0" fill="url(#gcL)"/><polygon points="470.0,21.0 513.7,21.0 513.7,64.7" fill="#ff1010" fill-opacity="0.01"/><polygon points="470.0,21.0 470.0,64.7 513.7,64.7" fill="#ff1010" fill-opacity="0.01"/><polygon points="513.7,64.7 562.5,64.7 562.5,113.5" fill="#ff1010" fill-opacity="0.01"/><polygon points="513.7,64.7 513.7,113.5 562.5,113.5" fill="#ff1010" fill-opacity="0.01"/><polygon points="562.5,113.5 609.7,113.5 609.7,160.7" fill="#ff1010" fill-opacity="0.01"/><polygon points="562.5,113.5 562.5,160.7 609.7,160.7" fill="#ff1010" fill-opacity="0.01"/><polygon points="609.7,160.7 635.6,160.7 635.6,186.6" fill="#ff1010" fill-opacity="0.01"/><polygon points="609.7,160.7 609.7,186.6 635.6,186.6" fill="#ff1010" fill-opacity="0.01"/><polygon points="635.6,186.6 644.0,186.6 644.0,195.0" fill="#ff1010" fill-opacity="0.01"/><polygon points="635.6,186.6 635.6,195.0 644.0,195.0" fill="#ff1010" fill-opacity="0.01"/><polygon points="470.0,21.0 490.6,21.0 490.6,41.6" fill="#ff1010" fill-opacity="0.02"/><polygon points="470.0,21.0 470.0,41.6 490.6,41.6" fill="#ff1010" fill-opacity="0.02"/><polygon points="490.6,41.6 505.2,41.6 505.2,56.2" fill="#ff1010" fill-opacity="0.03"/><polygon points="490.6,41.6 490.6,56.2 505.2,56.2" fill="#ff1010" fill-opacity="0.03"/><polygon points="505.2,56.2 520.8,56.2 520.8,71.8" fill="#ff1010" fill-opacity="0.04"/><polygon points="505.2,56.2 505.2,71.8 520.8,71.8" fill="#ff1010" fill-opacity="0.04"/><polygon points="520.8,71.8 529.0,71.8 529.0,80.0" fill="#ff1010" fill-opacity="0.03"/><polygon points="520.8,71.8 520.8,80.0 529.0,80.0" fill="#ff1010" fill-opacity="0.03"/><polygon points="529.0,80.0 540.9,80.0 540.9,91.9" fill="#ff1010" fill-opacity="0.05"/><polygon points="529.0,80.0 529.0,91.9 540.9,91.9" fill="#ff1010" fill-opacity="0.05"/><polygon points="540.9,91.9 559.6,91.9 559.6,110.6" fill="#ff1010" fill-opacity="0.02"/><polygon points="540.9,91.9 540.9,110.6 559.6,110.6" fill="#ff1010" fill-opacity="0.02"/><polygon points="559.6,110.6 578.8,110.6 578.8,129.8" fill="#ff1010" fill-opacity="0.02"/><polygon points="559.6,110.6 559.6,129.8 578.8,129.8" fill="#ff1010" fill-opacity="0.02"/><polygon points="578.8,129.8 595.4,129.8 595.4,146.4" fill="#ff1010" fill-opacity="0.02"/><polygon points="578.8,129.8 578.8,146.4 595.4,146.4" fill="#ff1010" fill-opacity="0.02"/><polygon points="595.4,146.4 603.4,146.4 603.4,154.4" fill="#ff1010" fill-opacity="0.05"/><polygon points="595.4,146.4 595.4,154.4 603.4,154.4" fill="#ff1010" fill-opacity="0.05"/><polygon points="603.4,154.4 614.4,154.4 614.4,165.4" fill="#ff1010" fill-opacity="0.03"/><polygon points="603.4,154.4 603.4,165.4 614.4,165.4" fill="#ff1010" fill-opacity="0.03"/><polygon points="614.4,165.4 636.1,165.4 636.1,187.1" fill="#ff1010" fill-opacity="0.05"/><polygon points="614.4,165.4 614.4,187.1 636.1,187.1" fill="#ff1010" fill-opacity="0.05"/><polygon points="636.1,187.1 644.0,187.1 644.0,195.0" fill="#ff1010" fill-opacity="0.05"/><polygon points="636.1,187.1 636.1,195.0 644.0,195.0" fill="#ff1010" fill-opacity="0.05"/><polygon points="470.0,21.0 475.7,21.0 475.7,26.7" fill="#ff1010" fill-opacity="0.11"/><polygon points="470.0,21.0 470.0,26.7 475.7,26.7" fill="#ff1010" fill-opacity="0.11"/><polygon points="475.7,26.7 479.7,26.7 479.7,30.7" fill="#ff1010" fill-opacity="0.13"/><polygon points="475.7,26.7 475.7,30.7 479.7,30.7" fill="#ff1010" fill-opacity="0.13"/><polygon points="479.7,30.7 486.2,30.7 486.2,37.2" fill="#ff1010" fill-opacity="0.14"/><polygon points="479.7,30.7 479.7,37.2 486.2,37.2" fill="#ff1010" fill-opacity="0.14"/><polygon points="486.2,37.2 493.6,37.2 493.6,44.6" fill="#ff1010" fill-opacity="0.08"/><polygon points="486.2,37.2 486.2,44.6 493.6,44.6" fill="#ff1010" fill-opacity="0.08"/><polygon points="493.6,44.6 498.4,44.6 498.4,49.4" fill="#ff1010" fill-opacity="0.06"/><polygon points="493.6,44.6 493.6,49.4 498.4,49.4" fill="#ff1010" fill-opacity="0.06"/><polygon points="498.4,49.4 502.2,49.4 502.2,53.2" fill="#ff1010" fill-opacity="0.06"/><polygon points="498.4,49.4 498.4,53.2 502.2,53.2" fill="#ff1010" fill-opacity="0.06"/><polygon points="502.2,53.2 506.7,53.2 506.7,57.7" fill="#ff1010" fill-opacity="0.10"/><polygon points="502.2,53.2 502.2,57.7 506.7,57.7" fill="#ff1010" fill-opacity="0.10"/><polygon points="506.7,57.7 509.7,57.7 509.7,60.7" fill="#ff1010" fill-opacity="0.11"/><polygon points="506.7,57.7 506.7,60.7 509.7,60.7" fill="#ff1010" fill-opacity="0.11"/><polygon points="509.7,60.7 514.4,60.7 514.4,65.4" fill="#ff1010" fill-opacity="0.08"/><polygon points="509.7,60.7 509.7,65.4 514.4,65.4" fill="#ff1010" fill-opacity="0.08"/><polygon points="514.4,65.4 521.5,65.4 521.5,72.5" fill="#ff1010" fill-opacity="0.09"/><polygon points="514.4,65.4 514.4,72.5 521.5,72.5" fill="#ff1010" fill-opacity="0.09"/><polygon points="521.5,72.5 526.1,72.5 526.1,77.1" fill="#ff1010" fill-opacity="0.09"/><polygon points="521.5,72.5 521.5,77.1 526.1,77.1" fill="#ff1010" fill-opacity="0.09"/><polygon points="526.1,77.1 532.6,77.1 532.6,83.6" fill="#ff1010" fill-opacity="0.06"/><polygon points="526.1,77.1 526.1,83.6 532.6,83.6" fill="#ff1010" fill-opacity="0.06"/><polygon points="532.6,83.6 540.5,83.6 540.5,91.5" fill="#ff1010" fill-opacity="0.05"/><polygon points="532.6,83.6 532.6,91.5 540.5,91.5" fill="#ff1010" fill-opacity="0.05"/><polygon points="540.5,91.5 547.2,91.5 547.2,98.2" fill="#ff1010" fill-opacity="0.13"/><polygon points="540.5,91.5 540.5,98.2 547.2,98.2" fill="#ff1010" fill-opacity="0.13"/><polygon points="547.2,98.2 550.3,98.2 550.3,101.3" fill="#ff1010" fill-opacity="0.12"/><polygon points="547.2,98.2 547.2,101.3 550.3,101.3" fill="#ff1010" fill-opacity="0.12"/><polygon points="550.3,101.3 555.1,101.3 555.1,106.1" fill="#ff1010" fill-opacity="0.10"/><polygon points="550.3,101.3 550.3,106.1 555.1,106.1" fill="#ff1010" fill-opacity="0.10"/><polygon points="555.1,106.1 558.2,106.1 558.2,109.2" fill="#ff1010" fill-opacity="0.05"/><polygon points="555.1,106.1 555.1,109.2 558.2,109.2" fill="#ff1010" fill-opacity="0.05"/><polygon points="558.2,109.2 562.1,109.2 562.1,113.1" fill="#ff1010" fill-opacity="0.14"/><polygon points="558.2,109.2 558.2,113.1 562.1,113.1" fill="#ff1010" fill-opacity="0.14"/><polygon points="562.1,113.1 566.1,113.1 566.1,117.1" fill="#ff1010" fill-opacity="0.12"/><polygon points="562.1,113.1 562.1,117.1 566.1,117.1" fill="#ff1010" fill-opacity="0.12"/><polygon points="566.1,117.1 573.7,117.1 573.7,124.7" fill="#ff1010" fill-opacity="0.13"/><polygon points="566.1,117.1 566.1,124.7 573.7,124.7" fill="#ff1010" fill-opacity="0.13"/><polygon points="573.7,124.7 578.4,124.7 578.4,129.4" fill="#ff1010" fill-opacity="0.08"/><polygon points="573.7,124.7 573.7,129.4 578.4,129.4" fill="#ff1010" fill-opacity="0.08"/><polygon points="578.4,129.4 584.1,129.4 584.1,135.1" fill="#ff1010" fill-opacity="0.12"/><polygon points="578.4,129.4 578.4,135.1 584.1,135.1" fill="#ff1010" fill-opacity="0.12"/><polygon points="584.1,135.1 587.6,135.1 587.6,138.6" fill="#ff1010" fill-opacity="0.12"/><polygon points="584.1,135.1 584.1,138.6 587.6,138.6" fill="#ff1010" fill-opacity="0.12"/><polygon points="587.6,138.6 594.6,138.6 594.6,145.6" fill="#ff1010" fill-opacity="0.13"/><polygon points="587.6,138.6 587.6,145.6 594.6,145.6" fill="#ff1010" fill-opacity="0.13"/><polygon points="594.6,145.6 597.8,145.6 597.8,148.8" fill="#ff1010" fill-opacity="0.14"/><polygon points="594.6,145.6 594.6,148.8 597.8,148.8" fill="#ff1010" fill-opacity="0.14"/><polygon points="597.8,148.8 601.2,148.8 601.2,152.2" fill="#ff1010" fill-opacity="0.08"/><polygon points="597.8,148.8 597.8,152.2 601.2,152.2" fill="#ff1010" fill-opacity="0.08"/><polygon points="601.2,152.2 607.3,152.2 607.3,158.3" fill="#ff1010" fill-opacity="0.13"/><polygon points="601.2,152.2 601.2,158.3 607.3,158.3" fill="#ff1010" fill-opacity="0.13"/><polygon points="607.3,158.3 612.0,158.3 612.0,163.0" fill="#ff1010" fill-opacity="0.13"/><polygon points="607.3,158.3 607.3,163.0 612.0,163.0" fill="#ff1010" fill-opacity="0.13"/><polygon points="612.0,163.0 617.7,163.0 617.7,168.7" fill="#ff1010" fill-opacity="0.08"/><polygon points="612.0,163.0 612.0,168.7 617.7,168.7" fill="#ff1010" fill-opacity="0.08"/><polygon points="617.7,168.7 622.3,168.7 622.3,173.3" fill="#ff1010" fill-opacity="0.07"/><polygon points="617.7,168.7 617.7,173.3 622.3,173.3" fill="#ff1010" fill-opacity="0.07"/><polygon points="622.3,173.3 625.7,173.3 625.7,176.7" fill="#ff1010" fill-opacity="0.06"/><polygon points="622.3,173.3 622.3,176.7 625.7,176.7" fill="#ff1010" fill-opacity="0.06"/><polygon points="625.7,176.7 632.1,176.7 632.1,183.1" fill="#ff1010" fill-opacity="0.14"/><polygon points="625.7,176.7 625.7,183.1 632.1,183.1" fill="#ff1010" fill-opacity="0.14"/><polygon points="632.1,183.1 635.9,183.1 635.9,186.9" fill="#ff1010" fill-opacity="0.05"/><polygon points="632.1,183.1 632.1,186.9 635.9,186.9" fill="#ff1010" fill-opacity="0.05"/><polygon points="635.9,186.9 643.9,186.9 643.9,194.9" fill="#ff1010" fill-opacity="0.10"/><polygon points="635.9,186.9 635.9,194.9 643.9,194.9" fill="#ff1010" fill-opacity="0.10"/><polygon points="643.9,194.9 644.0,194.9 644.0,195.0" fill="#ff1010" fill-opacity="0.07"/><polygon points="643.9,194.9 643.9,195.0 644.0,195.0" fill="#ff1010" fill-opacity="0.07"/><polygon points="470.0,21.0 500.0,21.0 500.0,51.0" fill="#ff1010" fill-opacity="0.05"/><polygon points="500.0,51.0 524.0,51.0 524.0,75.0" fill="#ff1010" fill-opacity="0.04"/><polygon points="524.0,75.0 550.0,75.0 550.0,101.0" fill="#ff1010" fill-opacity="0.05"/><polygon points="550.0,101.0 578.0,101.0 578.0,129.0" fill="#ff1010" fill-opacity="0.04"/><polygon points="578.0,129.0 605.0,129.0 605.0,156.0" fill="#ff1010" fill-opacity="0.05"/><polygon points="605.0,156.0 628.0,156.0 628.0,179.0" fill="#ff1010" fill-opacity="0.06"/><polygon points="628.0,179.0 644.0,179.0 644.0,195.0" fill="#ff1010" fill-opacity="0.05"/><polygon points="470.0,21.0 524.0,21.0 524.0,75.0" fill="#ff1010" fill-opacity="0.02"/><polygon points="524.0,75.0 578.0,75.0 578.0,129.0" fill="#ff1010" fill-opacity="0.025"/><polygon points="578.0,129.0 644.0,129.0 644.0,195.0" fill="#ff1010" fill-opacity="0.03"/><rect x="470.0" y="21.0" width="174.0" height="174.0" filter="url(#blotchC)" mask="url(#mC)" opacity="0.7"/><rect x="470.0" y="21.0" width="174.0" height="174.0" filter="url(#noiseC)" opacity="0.4"/><rect x="525" y="21.0" width="119.0" height="50.0" fill="#fef4f4" fill-opacity="0.55"/><rect x="639.5" y="21.0" width="5" height="50.0" fill="#ff5050" fill-opacity="0.12"/><ellipse cx="529" cy="67" rx="6" ry="4" fill="#f44" fill-opacity="0.12"/><rect x="470.0" y="75.8" width="50.299999999999955" height="119.2" fill="#ebebeb"/><rect x="500.2" y="56" width="0.8" height="20" fill="#fafafa"/><rect x="500.2" y="133.2" width="0.8" height="61.80000000000001" fill="#fafafa"/><rect x="500.2" y="133.2" width="18.3" height="0.8" fill="#fafafa"/><rect x="518.3" y="76.5" width="1" height="118.5" fill="#f8f8f8"/><line x1="467.0" y1="18.0" x2="647.0" y2="198.0" stroke="#fff" stroke-width="6.3"/></g>
<rect x="524.2" y="21" width="1.5" height="50.6" fill="#1a1a1a"/>
<rect x="524.2" y="70.4" width="124" height="1.5" fill="#1a1a1a"/>
<rect x="470" y="75" width="51" height="1.5" fill="#1a1a1a"/>
<rect x="519.6" y="75" width="1.5" height="137.5" fill="#1a1a1a"/>
<text x="495.3" y="183.4" font-size="7.49" text-anchor="start" fill="#121212" style="" textLength="19.46" lengthAdjust="spacingAndGlyphs">1 Mbp</text>
<rect x="478" y="186.4" width="55" height="2.5" fill="#000"/>
<text x="509.1" y="16.1" font-size="9.2" text-anchor="start" fill="#121212" style="" textLength="101.8" lengthAdjust="spacingAndGlyphs">MB106 (Group 3 ecDNA+)</text>
<text x="464.6" y="161.4" font-size="9.2" text-anchor="start" fill="#121212" style="" transform="rotate(-90 464.6 161.4)" textLength="101.2" lengthAdjust="spacingAndGlyphs">MB288 (Group 3 ecDNA–)</text>
<line x1="655" y1="51.8" x2="646.462741699797" y2="60.33725830020305" stroke="#46577a" stroke-width="1.1"/>
<polygon points="644.2,62.6 645.0485281374239,58.923044737829954 647.8769552621701,61.75147186257614" fill="#46577a"/>
<line x1="541.5" y1="54" x2="532.9943837402062" y2="62.26934914146621" stroke="#46577a" stroke-width="1.1"/>
<polygon points="530.7,64.5 531.6002269536226,60.83535930383735 534.3885405267898,63.703338979095065" fill="#46577a"/>
<g fill="#2e9a36"><rect x="646.3" y="23.7" width="3.7" height="1.2" fill-opacity="1"/><rect x="646.3" y="27" width="3.7" height="1.2" fill-opacity="1"/><rect x="646.3" y="31.2" width="3.7" height="1.2" fill-opacity="0.8"/><rect x="646.3" y="34.9" width="3.7" height="1.4" fill-opacity="1"/><rect x="646.3" y="37" width="3.7" height="1" fill-opacity="0.9"/><rect x="646.3" y="38.8" width="3.7" height="1.5" fill-opacity="1"/><rect x="646.3" y="41" width="3.7" height="1" fill-opacity="0.9"/><rect x="646.3" y="42.6" width="3.7" height="1.4" fill-opacity="1"/><rect x="646.3" y="44.5" width="3.7" height="0.8" fill-opacity="0.9"/><rect x="646.3" y="53.5" width="3.7" height="0.6" fill-opacity="0.5"/><rect x="646.3" y="59" width="3.7" height="1" fill-opacity="0.7"/><rect x="646.3" y="62.8" width="3.7" height="1.3" fill-opacity="1"/><rect x="646.3" y="65" width="3.7" height="1.2" fill-opacity="1"/><rect x="646.3" y="73" width="3.7" height="2" fill-opacity="1"/><rect x="646.3" y="76.5" width="3.7" height="2.3" fill-opacity="1"/><rect x="646.3" y="86.6" width="3.7" height="0.6" fill-opacity="0.8"/><rect x="646.3" y="115.8" width="3.7" height="1.6" fill-opacity="1"/><rect x="646.3" y="118.3" width="3.7" height="0.8" fill-opacity="1"/><rect x="646.3" y="120.2" width="3.7" height="1.4" fill-opacity="1"/><rect x="646.3" y="122.4" width="3.7" height="0.8" fill-opacity="1"/><rect x="646.3" y="124" width="3.7" height="1.7" fill-opacity="1"/><rect x="646.3" y="126.5" width="3.7" height="1.4" fill-opacity="1"/><rect x="646.3" y="130.7" width="3.7" height="1.6" fill-opacity="1"/><rect x="646.3" y="133.1" width="3.7" height="1.7" fill-opacity="1"/><rect x="646.3" y="135.1" width="3.7" height="1.7" fill-opacity="1"/><rect x="646.3" y="140" width="3.7" height="1.7" fill-opacity="1"/><rect x="646.3" y="142.6" width="3.7" height="1.3" fill-opacity="1"/><rect x="646.3" y="145" width="3.7" height="2.2" fill-opacity="0.9"/><rect x="646.3" y="147.7" width="3.7" height="2.3" fill-opacity="0.9"/><rect x="646.3" y="151.7" width="3.7" height="0.9" fill-opacity="1"/><rect x="646.3" y="153.8" width="3.7" height="1.1" fill-opacity="1"/><rect x="646.3" y="156.6" width="3.7" height="0.7" fill-opacity="0.8"/><rect x="646.3" y="160" width="3.7" height="3.9" fill-opacity="0.45"/><rect x="646.3" y="166" width="3.7" height="0.7" fill-opacity="0.8"/><rect x="646.3" y="170" width="3.7" height="0.8" fill-opacity="0.8"/><rect x="646.3" y="172.6" width="3.7" height="0.8" fill-opacity="0.8"/><rect x="646.3" y="175.2" width="3.7" height="2.6" fill-opacity="1"/><rect x="646.3" y="178.1" width="3.7" height="2.3" fill-opacity="1"/><rect x="646.3" y="181.2" width="3.7" height="0.9" fill-opacity="1"/><rect x="646.3" y="183.9" width="3.7" height="0.8" fill-opacity="0.9"/><rect x="646.3" y="185.6" width="3.7" height="0.9" fill-opacity="0.9"/><rect x="646.3" y="187.3" width="3.7" height="1.2" fill-opacity="0.9"/><rect x="647.8" y="34.9" width="0.7" height="10.4"/><rect x="647.8" y="116" width="0.7" height="72"/></g>
<g fill="#2e9a36"><rect x="472.9" y="197.3" width="1" height="3.5" fill-opacity="0.6"/><rect x="476.8" y="197.3" width="1.1" height="3.5" fill-opacity="1"/><rect x="483.2" y="197.3" width="1.8" height="3.5" fill-opacity="0.9"/><rect x="485.5" y="197.3" width="1" height="3.5" fill-opacity="0.6"/><rect x="487.3" y="197.3" width="1.1" height="3.5" fill-opacity="0.9"/><rect x="489.3" y="197.3" width="1.5" height="3.5" fill-opacity="0.9"/><rect x="491.1" y="197.3" width="1.4" height="3.5" fill-opacity="0.9"/><rect x="494.6" y="197.3" width="2.4" height="3.5" fill-opacity="1"/><rect x="497.4" y="197.3" width="1" height="3.5" fill-opacity="0.9"/><rect x="499" y="197.3" width="0.8" height="3.5" fill-opacity="0.9"/><rect x="511.5" y="197.3" width="2.1" height="3.5" fill-opacity="0.6"/><rect x="516.5" y="197.3" width="1.7" height="3.5" fill-opacity="0.6"/><rect x="522.9" y="197.3" width="5.8" height="3.5" fill-opacity="1"/><rect x="542.8" y="197.3" width="1.2" height="3.5" fill-opacity="0.5"/><rect x="565.2" y="197.3" width="1.5" height="3.5" fill-opacity="1"/><rect x="567" y="197.3" width="1" height="3.5" fill-opacity="0.7"/><rect x="568.5" y="197.3" width="1.5" height="3.5" fill-opacity="1"/><rect x="570.5" y="197.3" width="1" height="3.5" fill-opacity="1"/><rect x="572.2" y="197.3" width="1.2" height="3.5" fill-opacity="0.8"/><rect x="574" y="197.3" width="1" height="3.5" fill-opacity="1"/><rect x="579.4" y="197.3" width="2.5" height="3.5" fill-opacity="1"/><rect x="583" y="197.3" width="2.8" height="3.5" fill-opacity="1"/><rect x="588.9" y="197.3" width="3" height="3.5" fill-opacity="0.9"/><rect x="592.5" y="197.3" width="3" height="3.5" fill-opacity="0.9"/><rect x="596" y="197.3" width="3" height="3.5" fill-opacity="1"/><rect x="600.6" y="197.3" width="1.5" height="3.5" fill-opacity="0.8"/><rect x="603.5" y="197.3" width="1.2" height="3.5" fill-opacity="0.8"/><rect x="605" y="197.3" width="0.7" height="3.5" fill-opacity="0.8"/><rect x="608.6" y="197.3" width="2" height="3.5" fill-opacity="0.7"/><rect x="611.5" y="197.3" width="1.5" height="3.5" fill-opacity="0.7"/><rect x="614" y="197.3" width="1.2" height="3.5" fill-opacity="0.8"/><rect x="618.8" y="197.3" width="0.7" height="3.5" fill-opacity="0.6"/><rect x="622.5" y="197.3" width="8.7" height="3.5" fill-opacity="1"/><rect x="632.7" y="197.3" width="1.5" height="3.5" fill-opacity="0.9"/><rect x="635" y="197.3" width="1.2" height="3.5" fill-opacity="0.9"/><rect x="637.5" y="197.3" width="1.7" height="3.5" fill-opacity="0.9"/><rect x="483" y="198.8" width="16.5" height="0.6"/><rect x="565" y="198.8" width="10" height="0.6"/><rect x="622" y="198.8" width="17.5" height="0.6"/></g>
<rect x="511.9" y="203" width="0.6" height="3.4" fill="#444"/>
<rect x="524.9" y="203" width="0.6" height="3.4" fill="#444"/>
<rect x="635.3" y="203" width="0.6" height="3.4" fill="#444"/>
<text x="654" y="66.5" font-size="8.99" text-anchor="start" fill="#121212" style="font-style:italic;" textLength="20.6" lengthAdjust="spacingAndGlyphs">MYC</text>
<text x="654" y="78.2" font-size="8.99" text-anchor="start" fill="#121212" style="font-style:italic;" textLength="29.2" lengthAdjust="spacingAndGlyphs">ZC3H3</text>
<text x="654" y="190.2" font-size="8.99" text-anchor="start" fill="#121212" style="font-style:italic;" textLength="31.28" lengthAdjust="spacingAndGlyphs">PTP4A3</text>
<text x="497.7" y="216.9" font-size="8.99" text-anchor="start" fill="#121212" style="font-style:italic;" textLength="18.67" lengthAdjust="spacingAndGlyphs">MYC</text>
<text x="524" y="216.9" font-size="8.99" text-anchor="start" fill="#121212" style="font-style:italic;" textLength="26.61" lengthAdjust="spacingAndGlyphs">ZC3H3</text>
<text x="616.2" y="216.2" font-size="8.99" text-anchor="start" fill="#121212" style="font-style:italic;" textLength="31.28" lengthAdjust="spacingAndGlyphs">PTP4A3</text>
<text x="500.3" y="228.8" font-size="9.63" text-anchor="start" fill="#121212" style="" textLength="119" lengthAdjust="spacingAndGlyphs">Chromatin interaction density</text>
<text x="507.0" y="239.6" font-size="9.42" text-anchor="start" fill="#121212" style="" textLength="16.14" lengthAdjust="spacingAndGlyphs">Low</text>
<rect x="527.3" y="233" width="65.7" height="8.2" fill="url(#lg)"/>
<text x="594.9" y="239.8" font-size="9.42" text-anchor="start" fill="#121212" style="" textLength="18.1" lengthAdjust="spacingAndGlyphs">High</text>
</svg></body></html>
